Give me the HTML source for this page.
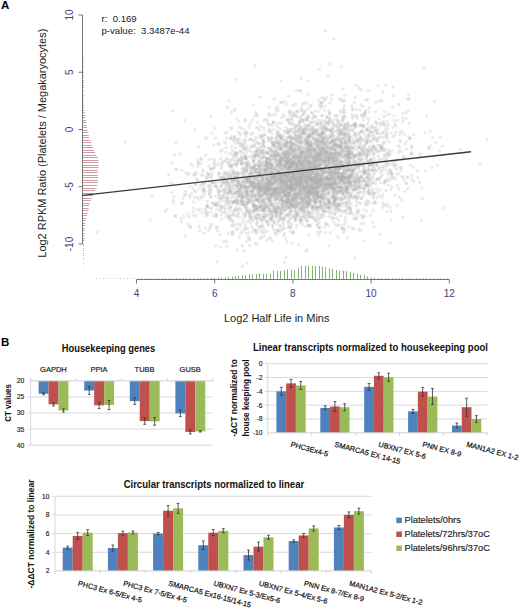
<!DOCTYPE html>
<html><head><meta charset="utf-8"><style>
html,body{margin:0;padding:0;background:#fff;width:520px;height:608px;overflow:hidden}
svg{position:absolute;left:0;top:0}
text{font-family:"Liberation Sans",sans-serif}
.tk{font-size:10px;fill:#3e3e7c}
.lab{font-size:11px;fill:#222}
.st{font-size:9.6px;fill:#222}
.big{font-size:11.5px;font-weight:bold;fill:#000}
.ct{font-size:7.5px;fill:#222;stroke:#222;stroke-width:0.2px}
.tk2{font-size:6.8px;fill:#222;stroke:#222;stroke-width:0.15px}
.ctl{font-size:7.3px;fill:#111;stroke:#111;stroke-width:0.2px}
.ctt{font-size:10px;font-weight:bold;fill:#111}
.cty{font-size:9.4px;font-weight:bold;fill:#111}
.cty2{font-size:8.7px;font-weight:bold;fill:#111}
.cty3{font-size:9.6px;font-weight:bold;fill:#111}
.leg{font-size:9.6px;fill:#1a1a1a;stroke:#1a1a1a;stroke-width:0.15px}
</style></head><body>
<svg width="520" height="608" viewBox="0 0 520 608">
<path d="M321.2 194.8h0M329.4 201.8h0M240.8 188.7h0M319.0 153.6h0M264.9 202.9h0M309.6 178.6h0M206.1 212.0h0M308.6 125.2h0M359.1 88.0h0M341.8 227.7h0M295.2 189.2h0M306.7 178.8h0M301.8 204.7h0M280.1 152.7h0M323.7 147.4h0M334.8 202.2h0M309.7 191.6h0M293.1 206.8h0M323.8 154.3h0M355.8 155.3h0M322.2 148.8h0M320.2 148.5h0M294.8 220.3h0M300.0 221.0h0M328.7 207.6h0M275.1 167.7h0M345.5 159.9h0M259.5 143.8h0M246.6 167.0h0M301.7 173.5h0M341.1 153.3h0M256.5 208.3h0M325.7 165.6h0M308.7 184.7h0M258.5 149.7h0M238.4 196.8h0M261.5 187.8h0M366.9 154.9h0M280.7 192.2h0M321.7 183.6h0M298.1 172.2h0M345.5 187.5h0M271.6 212.7h0M274.9 190.7h0M318.3 191.1h0M307.6 170.9h0M318.1 149.4h0M302.4 219.6h0M281.5 197.5h0M256.4 165.4h0M315.1 165.1h0M369.1 189.0h0M346.3 189.3h0M275.6 217.2h0M331.9 174.5h0" stroke="#b0b0b0" stroke-opacity="0.25" stroke-width="3.4" stroke-linecap="round" fill="none"/>
<path d="M288.8 163.8h0M294.9 192.8h0M332.9 170.9h0M328.7 170.4h0M375.7 140.8h0M344.4 127.5h0M346.8 159.0h0M285.9 183.5h0M321.2 147.0h0M262.9 226.4h0M252.4 145.4h0M395.0 195.4h0M348.2 122.1h0M332.1 178.4h0M297.4 195.4h0M349.5 162.7h0M300.6 180.3h0M339.0 183.1h0M243.2 148.3h0M256.6 150.7h0M304.9 188.7h0M291.3 189.2h0M344.0 189.2h0M337.9 178.6h0M236.3 210.5h0M284.6 130.6h0M297.9 198.6h0M293.5 157.8h0M292.7 179.2h0M274.1 206.7h0M355.9 127.2h0M297.9 170.5h0M256.2 137.2h0M269.0 222.9h0M288.6 152.3h0M313.7 154.8h0M349.4 161.6h0M301.0 146.2h0M316.4 140.5h0M356.7 174.9h0M319.6 104.9h0M278.9 161.8h0M276.4 146.8h0M367.4 123.9h0M252.8 192.7h0M430.2 131.1h0M290.5 168.3h0M250.4 139.0h0M325.8 163.5h0M318.5 196.3h0M301.8 169.7h0M308.9 234.8h0M294.2 159.3h0M272.5 151.8h0M336.0 145.6h0" stroke="#b0b0b0" stroke-opacity="0.25" stroke-width="3.4" stroke-linecap="round" fill="none"/>
<path d="M306.9 195.2h0M229.2 193.1h0M217.1 204.6h0M262.1 185.4h0M202.9 182.2h0M221.3 214.2h0M343.2 271.7h0M317.2 141.0h0M351.8 154.0h0M308.8 178.3h0M356.3 205.7h0M294.8 197.0h0M312.1 163.5h0M298.0 159.1h0M316.9 176.5h0M340.2 140.4h0M291.8 188.0h0M382.0 170.8h0M276.9 234.5h0M345.5 140.8h0M287.1 180.0h0M380.1 178.3h0M298.7 208.4h0M348.9 176.6h0M355.8 155.4h0M342.2 173.4h0M281.7 164.9h0M353.9 155.5h0M316.0 140.4h0M240.7 158.9h0M227.7 194.3h0M323.8 136.6h0M331.6 142.5h0M235.9 147.2h0M377.5 151.8h0M226.5 181.5h0M305.8 159.0h0M323.1 202.1h0M259.6 195.1h0M306.9 167.9h0M268.3 190.2h0M303.3 151.3h0M274.0 159.6h0M342.4 164.9h0M295.4 145.9h0M381.1 147.7h0M347.2 191.7h0M261.9 194.5h0M371.3 164.3h0M180.8 218.4h0M316.2 130.3h0M254.5 167.7h0M367.9 152.5h0M220.4 210.2h0M277.6 198.8h0" stroke="#b0b0b0" stroke-opacity="0.25" stroke-width="3.4" stroke-linecap="round" fill="none"/>
<path d="M281.4 179.5h0M355.4 146.5h0M301.8 151.5h0M337.8 187.0h0M342.8 165.7h0M381.9 123.3h0M273.0 191.4h0M390.2 169.7h0M309.3 191.7h0M310.9 213.3h0M273.3 188.5h0M345.4 175.7h0M297.3 203.6h0M312.6 187.5h0M287.8 185.6h0M293.5 198.2h0M273.0 174.4h0M280.5 209.5h0M310.6 167.4h0M412.1 153.1h0M372.1 169.9h0M293.4 202.3h0M284.0 210.5h0M349.0 147.7h0M284.5 161.4h0M323.4 207.9h0M262.1 224.8h0M364.8 112.1h0M315.3 188.6h0M282.1 174.0h0M387.8 128.8h0M278.8 179.9h0M338.6 176.0h0M361.0 143.7h0M215.8 196.4h0M291.0 181.0h0M256.9 184.2h0M344.3 126.5h0M266.7 183.7h0M241.4 161.3h0M261.7 182.7h0M295.8 197.2h0M286.9 163.2h0M322.6 179.7h0M365.0 178.4h0M343.4 173.6h0M268.2 165.0h0M295.5 144.7h0M261.1 231.0h0M251.1 174.3h0M326.6 172.5h0M326.6 182.8h0M290.1 146.4h0M283.5 146.2h0M287.0 202.7h0" stroke="#b0b0b0" stroke-opacity="0.25" stroke-width="3.4" stroke-linecap="round" fill="none"/>
<path d="M264.3 220.2h0M305.0 128.9h0M284.1 142.5h0M262.3 169.3h0M221.5 168.3h0M317.1 145.3h0M388.9 155.2h0M304.4 187.5h0M255.3 230.5h0M299.3 177.9h0M290.8 131.0h0M315.6 166.5h0M271.4 179.0h0M321.4 184.2h0M309.0 193.4h0M300.0 172.3h0M306.2 152.9h0M367.3 160.2h0M334.6 207.2h0M243.3 145.1h0M211.9 132.9h0M262.5 153.8h0M276.3 191.9h0M263.3 179.6h0M255.8 156.0h0M262.7 157.1h0M274.6 223.2h0M281.8 218.1h0M306.8 176.9h0M325.6 132.3h0M340.4 162.4h0M328.7 171.6h0M290.1 165.6h0M382.7 195.0h0M266.9 178.2h0M324.2 156.1h0M211.0 116.4h0M313.5 114.6h0M285.4 181.8h0M406.4 182.7h0M280.3 180.8h0M343.6 137.5h0M344.3 167.1h0M248.7 181.6h0M339.7 177.4h0M190.7 227.3h0M340.6 145.8h0M241.7 189.0h0M313.6 172.8h0M300.7 216.6h0M261.4 185.1h0M360.4 146.7h0M275.0 181.5h0M337.9 160.1h0M213.9 164.1h0" stroke="#b0b0b0" stroke-opacity="0.25" stroke-width="3.4" stroke-linecap="round" fill="none"/>
<path d="M322.4 141.6h0M321.5 208.4h0M313.6 168.8h0M302.5 178.3h0M302.0 177.6h0M409.7 138.8h0M323.7 149.1h0M290.6 187.2h0M387.1 170.2h0M289.2 193.4h0M295.2 115.3h0M317.7 173.8h0M331.2 130.6h0M298.1 175.9h0M259.6 150.7h0M289.6 170.0h0M298.1 143.3h0M310.9 189.0h0M286.4 208.5h0M319.0 186.9h0M298.8 171.1h0M344.8 189.8h0M325.9 153.6h0M361.8 131.2h0M297.6 168.9h0M300.2 137.8h0M295.0 180.8h0M274.7 193.3h0M235.8 200.1h0M325.2 106.1h0M263.7 144.3h0M332.3 179.3h0M341.0 197.6h0M262.4 196.4h0M272.7 195.9h0M264.3 172.3h0M329.4 118.9h0M269.3 154.9h0M278.9 197.4h0M291.6 141.5h0M249.9 182.4h0M344.2 161.7h0M313.9 171.5h0M288.9 215.5h0M291.9 124.4h0M320.4 178.7h0M189.0 173.3h0M339.5 139.2h0M297.6 177.9h0M283.3 225.2h0M312.8 127.0h0M301.6 107.9h0M373.7 146.4h0M278.3 172.4h0M247.5 190.6h0" stroke="#b0b0b0" stroke-opacity="0.25" stroke-width="3.4" stroke-linecap="round" fill="none"/>
<path d="M288.9 168.2h0M267.6 180.4h0M349.6 152.8h0M368.4 135.1h0M289.3 150.3h0M315.0 140.4h0M311.1 152.6h0M317.6 145.1h0M235.6 163.6h0M245.4 194.8h0M316.9 192.7h0M265.7 205.9h0M324.6 178.4h0M313.0 186.3h0M316.3 202.5h0M354.1 189.4h0M322.2 139.0h0M213.7 162.4h0M331.3 176.5h0M284.0 220.4h0M282.1 207.8h0M327.9 179.5h0M347.0 207.4h0M295.8 116.3h0M329.1 158.1h0M254.8 182.5h0M234.2 201.4h0M368.6 180.6h0M238.2 202.3h0M253.9 208.3h0M271.2 150.0h0M249.8 201.5h0M339.8 168.3h0M321.3 178.9h0M242.4 163.2h0M337.6 122.7h0M275.6 188.2h0M374.3 146.3h0M428.6 147.6h0M350.5 142.0h0M325.5 153.1h0M354.7 175.0h0M278.4 155.8h0M320.5 169.1h0M258.7 176.8h0M281.9 172.9h0M307.0 143.4h0M305.4 129.0h0M297.1 154.5h0M340.4 190.7h0M324.9 171.6h0M314.3 155.2h0M278.6 186.5h0M356.2 187.4h0M266.4 162.8h0" stroke="#b0b0b0" stroke-opacity="0.25" stroke-width="3.4" stroke-linecap="round" fill="none"/>
<path d="M351.9 151.7h0M299.5 169.8h0M346.8 188.1h0M321.7 148.3h0M276.2 125.1h0M306.7 148.9h0M312.6 196.2h0M305.8 133.9h0M281.9 212.8h0M336.1 157.2h0M341.8 199.0h0M274.4 172.6h0M293.1 193.6h0M343.4 112.9h0M267.4 190.2h0M261.0 194.8h0M264.0 235.8h0M289.6 212.6h0M355.8 162.4h0M279.7 195.1h0M195.4 171.9h0M266.4 221.3h0M320.2 157.6h0M310.5 178.6h0M292.6 121.4h0M298.9 194.5h0M269.5 189.6h0M279.0 192.9h0M318.2 207.3h0M257.4 195.3h0M315.2 158.1h0M308.3 182.4h0M263.2 167.9h0M289.4 196.1h0M337.9 145.3h0M352.0 164.8h0M322.7 195.7h0M175.9 169.4h0M253.6 104.6h0M292.3 119.6h0M249.4 140.1h0M326.6 123.3h0M354.9 149.2h0M308.3 116.0h0M328.7 154.9h0M290.9 164.9h0M344.3 95.5h0M253.2 185.6h0M236.2 155.2h0M292.1 138.1h0M274.2 181.7h0M332.8 220.9h0M300.4 186.6h0M334.1 164.0h0M296.5 178.4h0" stroke="#b0b0b0" stroke-opacity="0.25" stroke-width="3.4" stroke-linecap="round" fill="none"/>
<path d="M251.5 183.1h0M296.8 184.9h0M343.6 186.0h0M292.2 159.4h0M359.9 132.5h0M270.3 213.2h0M347.2 184.1h0M374.4 193.9h0M287.4 189.0h0M262.5 161.8h0M289.5 192.4h0M294.1 160.1h0M312.3 149.1h0M346.8 161.8h0M250.3 192.2h0M335.3 201.5h0M233.2 140.9h0M254.2 195.9h0M239.3 159.7h0M290.6 205.0h0M371.2 142.9h0M267.3 174.5h0M278.4 171.1h0M278.7 220.8h0M271.4 183.5h0M385.1 161.0h0M282.2 158.6h0M300.8 160.0h0M322.6 163.4h0M374.8 128.8h0M362.5 159.3h0M280.7 184.5h0M292.2 203.8h0M347.9 164.1h0M356.8 180.9h0M295.6 156.5h0M343.5 173.2h0M261.0 171.0h0M266.2 189.0h0M356.1 178.4h0M287.8 201.5h0M289.3 205.0h0M255.0 200.6h0M269.1 190.3h0M249.5 177.1h0M302.9 175.6h0M360.7 187.4h0M351.0 203.7h0M251.7 195.9h0M308.0 160.5h0M272.5 114.7h0M268.1 185.3h0M323.5 200.4h0M245.2 149.8h0M293.0 170.2h0" stroke="#b0b0b0" stroke-opacity="0.25" stroke-width="3.4" stroke-linecap="round" fill="none"/>
<path d="M282.0 199.0h0M320.9 158.1h0M233.6 173.0h0M275.4 114.4h0M358.9 186.0h0M281.5 169.3h0M356.4 109.4h0M299.8 172.6h0M296.9 175.6h0M324.9 201.7h0M323.2 194.6h0M391.1 132.6h0M342.3 179.4h0M291.8 144.7h0M384.6 111.4h0M353.5 164.8h0M344.0 212.0h0M307.2 152.3h0M303.4 187.7h0M337.9 204.0h0M263.8 141.6h0M312.3 179.5h0M296.4 130.5h0M302.0 138.5h0M442.3 146.1h0M352.6 151.2h0M265.0 193.4h0M318.1 232.2h0M304.8 167.7h0M269.7 173.8h0M254.2 177.8h0M269.7 181.4h0M272.1 241.0h0M291.6 225.6h0M288.0 149.0h0M432.6 137.8h0M334.6 197.9h0M335.2 144.3h0M294.4 177.0h0M243.6 169.1h0M280.9 161.5h0M327.0 117.1h0M289.1 176.6h0M318.9 111.4h0M301.9 199.6h0M293.0 162.9h0M295.2 193.2h0M277.9 188.1h0M293.7 178.0h0M297.9 173.7h0M254.3 183.7h0M320.0 150.3h0M181.5 203.6h0M258.2 188.9h0M218.7 143.4h0" stroke="#b0b0b0" stroke-opacity="0.25" stroke-width="3.4" stroke-linecap="round" fill="none"/>
<path d="M346.3 202.9h0M237.7 162.9h0M260.0 185.5h0M274.6 176.4h0M320.0 206.9h0M240.9 233.2h0M221.7 207.6h0M284.8 161.3h0M307.2 142.2h0M373.9 163.0h0M302.8 157.5h0M302.2 104.3h0M287.3 185.4h0M239.4 143.6h0M338.0 164.0h0M307.0 176.5h0M301.3 163.2h0M252.9 187.2h0M284.2 146.9h0M219.8 205.7h0M329.7 168.2h0M367.6 99.2h0M286.6 183.2h0M296.3 125.8h0M357.3 154.1h0M345.4 147.3h0M364.3 167.4h0M329.8 198.1h0M259.8 204.0h0M311.4 184.3h0M310.0 199.7h0M271.0 171.4h0M363.0 150.7h0M312.4 210.6h0M325.8 180.7h0M308.0 173.4h0M277.0 214.5h0M255.9 218.4h0M202.1 197.0h0M315.8 160.6h0M278.6 154.6h0M234.9 178.6h0M288.6 201.3h0M335.8 170.5h0M254.2 156.2h0M310.9 171.3h0M311.7 155.0h0M295.1 194.3h0M343.0 166.0h0M347.9 178.0h0M338.8 153.0h0M358.6 147.9h0M247.0 171.3h0M361.7 185.4h0M293.6 231.8h0" stroke="#b0b0b0" stroke-opacity="0.25" stroke-width="3.4" stroke-linecap="round" fill="none"/>
<path d="M257.1 222.0h0M340.5 150.7h0M320.2 148.7h0M320.9 195.8h0M326.3 151.7h0M320.4 139.9h0M226.7 158.4h0M287.3 188.1h0M301.7 175.9h0M340.2 162.5h0M253.6 161.2h0M340.7 178.7h0M246.1 195.7h0M376.0 102.2h0M223.9 172.7h0M302.0 202.0h0M302.3 170.1h0M333.6 173.5h0M293.5 163.5h0M294.9 176.2h0M198.9 188.5h0M284.6 132.3h0M378.2 130.0h0M363.6 190.7h0M270.4 177.1h0M294.7 207.9h0M294.4 175.6h0M310.3 169.2h0M266.3 177.1h0M341.8 133.7h0M328.9 201.5h0M255.4 183.7h0M343.9 151.0h0M290.5 148.1h0M313.2 173.9h0M287.8 155.1h0M278.8 164.3h0M304.7 181.1h0M244.9 208.1h0M233.7 222.6h0M221.1 186.5h0M321.4 179.8h0M235.9 177.4h0M384.5 154.8h0M353.6 139.7h0M252.2 155.8h0M321.3 175.4h0M323.2 139.0h0M364.6 152.4h0M237.5 160.5h0M289.1 188.0h0M199.9 230.5h0M327.3 138.5h0M292.9 105.3h0M304.3 211.7h0" stroke="#b0b0b0" stroke-opacity="0.25" stroke-width="3.4" stroke-linecap="round" fill="none"/>
<path d="M338.5 152.8h0M267.3 158.2h0M282.2 180.7h0M338.5 204.6h0M298.5 205.9h0M259.7 196.9h0M254.7 214.6h0M316.3 157.7h0M332.2 141.3h0M314.3 195.9h0M257.6 214.2h0M310.2 137.5h0M363.4 147.8h0M208.4 174.3h0M309.4 226.1h0M333.3 196.2h0M260.4 215.5h0M309.2 134.3h0M226.7 246.0h0M340.8 146.1h0M281.9 181.7h0M211.6 189.9h0M216.4 181.7h0M338.0 162.5h0M309.2 193.9h0M184.2 194.8h0M326.4 165.9h0M280.6 137.3h0M288.7 181.2h0M165.2 211.5h0M308.6 158.2h0M307.3 201.7h0M345.2 149.2h0M395.2 178.7h0M311.1 188.9h0M321.1 120.5h0M296.2 190.5h0M330.3 130.7h0M296.2 138.6h0M358.3 145.5h0M270.9 164.9h0M290.0 184.2h0M324.1 122.7h0M397.9 145.8h0M310.5 178.0h0M323.8 204.6h0M237.0 180.0h0M250.3 123.6h0M301.8 169.6h0M228.7 178.2h0M336.9 225.8h0M372.6 162.8h0M336.2 131.2h0M314.9 218.9h0M245.7 214.0h0" stroke="#b0b0b0" stroke-opacity="0.25" stroke-width="3.4" stroke-linecap="round" fill="none"/>
<path d="M342.5 188.8h0M286.5 163.6h0M269.2 168.0h0M331.4 205.1h0M347.3 157.3h0M325.3 31.0h0M278.2 208.1h0M283.8 160.5h0M255.3 194.1h0M372.8 190.0h0M349.9 157.6h0M205.3 228.0h0M406.4 183.8h0M354.1 178.9h0M349.2 133.4h0M335.6 156.4h0M316.2 202.0h0M279.8 189.7h0M392.0 178.1h0M241.0 188.0h0M252.3 191.8h0M278.5 178.2h0M335.9 166.3h0M359.9 154.2h0M344.4 143.0h0M307.7 182.7h0M290.8 218.1h0M364.5 180.5h0M319.5 69.3h0M303.6 173.4h0M262.8 210.6h0M301.0 197.6h0M340.2 205.8h0M330.6 152.6h0M272.0 179.3h0M298.8 176.3h0M336.2 187.6h0M294.5 161.3h0M187.6 174.5h0M238.4 189.1h0M286.9 160.6h0M239.2 203.0h0M280.2 176.1h0M349.2 177.2h0M275.7 189.6h0M335.2 199.5h0M334.8 155.8h0M350.6 209.0h0M304.3 160.0h0M383.1 121.6h0M284.9 174.3h0M276.8 111.4h0M316.7 191.8h0M319.8 155.8h0M283.1 158.5h0" stroke="#b0b0b0" stroke-opacity="0.25" stroke-width="3.4" stroke-linecap="round" fill="none"/>
<path d="M315.0 149.7h0M366.1 181.8h0M299.9 151.7h0M365.8 182.0h0M314.8 183.6h0M334.1 150.3h0M292.3 243.3h0M313.3 173.6h0M326.0 224.2h0M304.2 112.4h0M218.8 194.6h0M295.7 217.5h0M307.8 140.8h0M258.6 167.6h0M284.5 176.2h0M373.1 139.5h0M307.2 150.9h0M301.5 177.8h0M288.3 176.1h0M299.0 161.3h0M294.9 128.6h0M327.0 141.0h0M225.4 179.2h0M385.4 180.6h0M347.3 149.2h0M294.2 184.2h0M305.9 172.4h0M263.3 215.2h0M343.8 195.0h0M380.5 150.6h0M303.5 188.3h0M333.7 38.6h0M313.7 187.3h0M317.1 192.8h0M265.3 183.3h0M271.8 187.4h0M305.4 171.5h0M312.3 127.0h0M263.9 120.4h0M301.0 169.0h0M292.1 163.5h0M282.6 177.6h0M309.6 216.9h0M331.6 149.7h0M234.8 180.2h0M350.9 178.1h0M324.8 100.2h0M335.8 149.9h0M269.2 163.7h0M316.8 180.0h0M293.4 178.5h0M242.9 195.7h0M330.2 184.0h0M338.4 146.9h0M276.3 189.1h0" stroke="#b0b0b0" stroke-opacity="0.25" stroke-width="3.4" stroke-linecap="round" fill="none"/>
<path d="M341.1 191.2h0M202.6 171.6h0M340.6 191.3h0M312.3 172.8h0M345.1 191.1h0M290.3 186.8h0M337.1 172.9h0M331.8 156.3h0M347.5 170.5h0M284.1 189.2h0M329.5 178.3h0M260.1 184.9h0M270.6 183.4h0M241.2 186.3h0M274.4 188.5h0M223.2 195.4h0M307.9 206.4h0M230.1 207.5h0M284.2 156.4h0M299.1 156.4h0M293.4 184.5h0M242.9 221.8h0M268.4 191.0h0M270.4 197.8h0M288.7 192.7h0M256.7 190.0h0M345.3 169.4h0M307.4 185.0h0M365.1 216.0h0M305.3 164.9h0M277.6 180.8h0M243.9 220.7h0M380.8 145.4h0M262.4 208.1h0M283.0 219.5h0M310.9 172.4h0M276.0 156.2h0M320.4 160.6h0M342.0 224.9h0M293.5 186.9h0M287.4 156.0h0M268.9 137.8h0M289.8 142.1h0M339.7 135.8h0M313.6 181.1h0M303.1 198.5h0M294.4 162.7h0M319.7 134.9h0M228.4 193.0h0M290.3 180.7h0M280.7 147.2h0M250.9 167.7h0M231.7 182.2h0M322.5 189.9h0M267.8 189.4h0" stroke="#b0b0b0" stroke-opacity="0.25" stroke-width="3.4" stroke-linecap="round" fill="none"/>
<path d="M299.7 188.3h0M377.3 162.9h0M275.4 158.9h0M308.4 207.3h0M343.0 116.7h0M294.5 156.1h0M368.5 193.0h0M324.1 158.4h0M275.4 181.9h0M270.5 219.6h0M313.5 197.3h0M300.2 152.2h0M314.9 181.8h0M299.2 168.6h0M351.2 126.6h0M197.6 197.5h0M403.9 156.7h0M302.2 161.4h0M193.7 202.3h0M295.7 211.4h0M328.7 153.6h0M315.6 195.3h0M293.1 124.1h0M304.4 177.7h0M263.8 188.7h0M301.6 168.9h0M268.0 148.6h0M306.2 206.8h0M324.7 142.1h0M300.7 157.1h0M248.2 165.4h0M267.3 122.9h0M265.2 152.0h0M287.7 160.0h0M247.4 203.5h0M300.6 90.8h0M233.5 213.0h0M263.8 146.3h0M330.2 163.2h0M313.1 167.9h0M325.5 172.9h0M298.5 136.1h0M241.4 161.4h0M301.0 208.8h0M257.5 122.4h0M368.1 167.3h0M359.8 164.2h0M330.6 148.1h0M316.5 160.2h0M272.4 165.4h0M273.8 150.7h0M317.1 124.2h0M246.8 169.9h0M311.0 173.5h0M317.1 149.1h0" stroke="#b0b0b0" stroke-opacity="0.25" stroke-width="3.4" stroke-linecap="round" fill="none"/>
<path d="M277.3 167.0h0M330.3 207.8h0M313.1 157.1h0M281.1 211.3h0M238.1 132.1h0M311.9 112.4h0M347.6 136.2h0M244.9 188.0h0M312.3 144.4h0M212.8 182.4h0M370.4 193.2h0M289.5 123.6h0M286.7 151.0h0M288.1 206.6h0M345.9 180.3h0M315.0 165.3h0M255.5 210.4h0M322.7 151.6h0M387.2 133.1h0M409.2 98.8h0M298.0 194.8h0M249.6 150.6h0M234.6 197.1h0M287.7 166.2h0M220.2 210.0h0M240.9 186.0h0M305.8 193.9h0M289.6 196.3h0M277.4 151.0h0M389.5 114.0h0M349.5 183.0h0M288.9 198.1h0M263.3 145.1h0M284.0 157.3h0M277.6 230.0h0M284.3 199.9h0M335.5 190.2h0M393.1 86.9h0M259.2 188.9h0M325.7 150.7h0M280.9 167.4h0M375.9 122.9h0M355.8 218.4h0M319.7 181.3h0M285.0 195.3h0M308.6 178.1h0M293.4 173.2h0M308.3 211.1h0M287.3 161.3h0M346.0 196.7h0M286.4 172.2h0M329.7 103.1h0M373.3 196.3h0M382.1 175.1h0M305.2 197.1h0" stroke="#b0b0b0" stroke-opacity="0.25" stroke-width="3.4" stroke-linecap="round" fill="none"/>
<path d="M379.4 158.4h0M326.2 190.0h0M310.3 198.3h0M330.1 168.5h0M327.0 154.4h0M322.1 154.4h0M371.1 177.7h0M242.3 245.8h0M300.9 181.7h0M277.6 189.7h0M362.3 150.3h0M343.3 156.6h0M269.6 160.7h0M330.5 203.6h0M369.7 148.2h0M234.1 172.5h0M277.9 207.5h0M257.3 225.6h0M328.2 172.6h0M226.9 176.8h0M285.9 174.0h0M306.2 128.2h0M274.9 162.5h0M286.8 196.0h0M214.9 205.5h0M253.9 211.3h0M268.5 124.6h0M326.5 165.6h0M305.3 152.5h0M348.1 141.1h0M347.5 123.6h0M241.3 143.3h0M335.0 142.6h0M297.5 206.4h0M265.1 169.8h0M315.9 169.3h0M307.9 186.5h0M275.8 141.8h0M307.3 167.9h0M279.1 194.7h0M292.7 178.9h0M287.3 194.2h0M320.8 138.1h0M278.4 194.6h0M314.7 151.6h0M301.7 192.8h0M328.4 180.6h0M289.5 192.6h0M318.8 185.4h0M343.0 148.3h0M286.8 162.2h0M310.3 151.4h0M234.2 181.2h0M281.1 159.8h0" stroke="#b0b0b0" stroke-opacity="0.25" stroke-width="3.4" stroke-linecap="round" fill="none"/>
<path d="M289.7 206.3h0M272.8 205.6h0M240.2 146.1h0M339.2 123.9h0M296.0 150.0h0M385.0 141.6h0M290.0 142.2h0M348.3 142.9h0M218.9 175.0h0M307.0 141.6h0M312.6 183.7h0M276.4 173.9h0M345.2 124.3h0M284.8 191.5h0M305.7 201.1h0M326.3 129.2h0M234.4 179.0h0M282.3 188.4h0M263.1 200.0h0M320.3 206.9h0M281.6 220.1h0M242.6 177.8h0M228.3 160.0h0M319.3 142.0h0M239.3 188.7h0M256.8 223.3h0M257.9 200.2h0M302.1 210.4h0M261.4 189.5h0M348.8 175.6h0M283.6 166.6h0M304.1 212.7h0M332.8 193.0h0M233.5 188.3h0M320.0 157.9h0M293.2 152.1h0M256.2 205.6h0M349.6 137.8h0M269.2 166.8h0M313.2 198.3h0M315.9 220.3h0M214.6 167.3h0M314.9 191.5h0M223.5 182.4h0M322.4 159.9h0M172.1 192.1h0M314.2 138.2h0M233.3 187.3h0M251.6 196.2h0M266.6 185.1h0M339.3 145.8h0M363.4 179.0h0M321.2 162.6h0M323.1 174.1h0" stroke="#b0b0b0" stroke-opacity="0.25" stroke-width="3.4" stroke-linecap="round" fill="none"/>
<path d="M283.0 183.4h0M273.1 194.2h0M245.2 183.4h0M327.4 206.2h0M341.6 154.3h0M279.1 211.8h0M320.1 181.0h0M366.3 185.4h0M306.3 191.6h0M315.5 111.3h0M291.0 194.6h0M253.6 205.1h0M335.9 181.8h0M278.4 187.8h0M386.8 158.9h0M347.0 155.1h0M263.0 158.3h0M283.6 185.1h0M274.6 202.4h0M260.4 238.4h0M280.7 80.6h0M383.6 124.7h0M299.9 195.8h0M258.2 193.3h0M313.9 166.3h0M277.5 193.2h0M290.3 191.8h0M368.6 134.1h0M313.1 206.6h0M278.6 207.2h0M304.8 187.3h0M305.8 125.0h0M309.5 164.3h0M342.3 175.4h0M368.3 163.0h0M372.4 150.4h0M350.1 167.5h0M380.8 176.9h0M367.1 184.7h0M295.9 132.3h0M306.3 182.8h0M325.2 135.2h0M250.5 181.2h0M326.7 176.2h0M280.4 226.7h0M286.5 164.2h0M331.4 178.5h0M262.2 205.3h0M341.6 140.8h0M308.5 169.3h0M303.9 171.5h0M370.8 159.5h0M257.6 215.1h0M246.8 177.3h0" stroke="#b0b0b0" stroke-opacity="0.25" stroke-width="3.4" stroke-linecap="round" fill="none"/>
<path d="M220.0 177.8h0M312.5 194.0h0M404.6 143.9h0M326.0 187.8h0M373.9 147.2h0M224.4 141.9h0M307.4 119.4h0M348.5 179.5h0M264.9 134.6h0M405.9 118.6h0M297.6 182.6h0M320.5 156.2h0M319.4 168.3h0M301.2 128.2h0M289.4 131.1h0M315.1 176.1h0M215.9 245.7h0M327.8 168.5h0M336.5 130.4h0M290.5 115.2h0M332.5 158.0h0M368.1 90.8h0M334.8 166.3h0M367.7 186.8h0M294.3 199.8h0M321.1 152.6h0M260.1 161.0h0M303.0 151.9h0M270.5 161.7h0M214.6 204.0h0M358.3 168.9h0M301.5 183.3h0M263.2 200.1h0M334.1 188.5h0M255.4 243.8h0M267.3 221.1h0M399.6 150.1h0M359.9 188.4h0M267.6 159.7h0M385.7 149.8h0M361.1 177.6h0M364.8 172.0h0M255.2 196.4h0M336.3 164.8h0M293.7 206.6h0M332.3 203.3h0M311.2 149.0h0M243.9 180.9h0M322.1 141.8h0M323.8 171.8h0M373.0 167.1h0M289.8 148.4h0M282.8 201.0h0M329.3 146.5h0" stroke="#b0b0b0" stroke-opacity="0.25" stroke-width="3.4" stroke-linecap="round" fill="none"/>
<path d="M344.2 151.9h0M307.9 149.9h0M326.0 207.4h0M316.1 145.6h0M261.4 136.2h0M314.7 184.8h0M320.9 196.8h0M303.6 206.6h0M318.6 140.9h0M275.3 155.5h0M334.8 115.4h0M316.0 198.3h0M325.0 127.4h0M277.5 130.9h0M322.7 170.3h0M303.9 177.6h0M358.7 165.1h0M235.1 152.8h0M279.3 185.4h0M265.4 199.0h0M264.7 190.6h0M331.6 99.5h0M307.7 163.9h0M243.7 191.3h0M351.9 136.9h0M269.1 131.7h0M294.8 189.9h0M342.6 129.1h0M357.5 141.0h0M299.5 183.2h0M275.7 162.1h0M307.1 164.2h0M332.5 158.4h0M325.2 152.6h0M343.3 109.0h0M258.0 180.5h0M318.7 154.7h0M228.7 185.0h0M361.4 198.6h0M292.3 179.5h0M286.0 158.7h0M310.0 190.7h0M297.4 166.9h0M253.3 211.5h0M342.3 174.7h0M278.9 147.6h0M324.3 140.0h0M354.4 185.4h0M322.3 189.8h0M303.8 202.1h0M307.7 184.1h0M341.3 143.0h0M325.9 169.0h0M173.8 196.8h0" stroke="#b0b0b0" stroke-opacity="0.25" stroke-width="3.4" stroke-linecap="round" fill="none"/>
<path d="M337.0 198.2h0M263.3 188.1h0M331.1 186.1h0M279.4 190.9h0M309.1 148.8h0M329.5 183.3h0M187.9 224.1h0M321.2 196.5h0M371.0 131.4h0M297.4 199.6h0M411.3 153.0h0M364.6 114.3h0M352.4 170.0h0M232.5 173.2h0M345.7 206.3h0M314.3 149.7h0M239.5 196.3h0M363.1 196.6h0M322.8 170.1h0M296.9 163.2h0M323.3 171.4h0M258.8 187.2h0M290.9 166.0h0M319.8 201.6h0M281.4 230.0h0M292.1 146.7h0M339.9 167.8h0M321.1 180.0h0M291.2 144.4h0M258.3 174.9h0M322.4 132.6h0M328.6 156.5h0M354.8 182.1h0M331.6 190.3h0M272.3 218.3h0M270.7 183.3h0M308.6 213.7h0M381.9 197.6h0M261.4 177.4h0M265.1 174.8h0M313.4 163.3h0M269.0 178.2h0M256.8 199.0h0M358.8 134.9h0M364.5 181.1h0M372.9 169.9h0M299.3 188.0h0M329.4 184.3h0M287.8 207.6h0M296.0 212.3h0M345.5 116.2h0M293.5 195.0h0M329.9 153.4h0M285.0 166.4h0" stroke="#b0b0b0" stroke-opacity="0.25" stroke-width="3.4" stroke-linecap="round" fill="none"/>
<path d="M342.6 190.7h0M323.0 125.5h0M309.0 191.0h0M249.2 180.4h0M342.9 180.2h0M256.2 178.4h0M329.8 113.1h0M336.1 187.7h0M280.5 209.9h0M275.2 213.5h0M299.4 146.9h0M300.2 165.1h0M248.6 186.4h0M361.1 223.8h0M284.0 193.8h0M287.3 203.1h0M365.7 204.1h0M324.4 169.0h0M260.9 150.7h0M407.7 99.0h0M305.7 194.6h0M262.2 190.3h0M290.8 119.6h0M334.6 183.6h0M344.9 171.1h0M336.0 160.1h0M377.1 197.5h0M308.1 193.7h0M217.1 261.9h0M318.7 166.0h0M370.5 136.3h0M343.7 170.7h0M266.9 158.8h0M393.4 160.8h0M310.8 166.9h0M325.6 162.6h0M296.0 166.6h0M329.0 185.7h0M290.1 111.7h0M270.8 183.5h0M273.2 183.4h0M378.9 168.3h0M346.3 148.1h0M333.3 141.3h0M290.4 166.0h0M309.0 163.0h0M290.2 189.4h0M288.6 165.2h0M333.7 158.2h0M327.4 122.9h0M370.8 160.9h0M421.5 220.4h0M268.5 188.7h0M340.5 124.5h0" stroke="#b0b0b0" stroke-opacity="0.25" stroke-width="3.4" stroke-linecap="round" fill="none"/>
<path d="M293.4 202.0h0M318.0 120.3h0M255.2 230.3h0M346.5 170.9h0M312.2 193.2h0M248.0 179.5h0M372.0 164.6h0M440.0 136.5h0M339.4 121.4h0M330.3 175.2h0M316.0 181.9h0M367.1 142.6h0M280.2 148.5h0M347.9 182.2h0M324.7 161.2h0M287.0 147.2h0M263.5 170.1h0M281.7 185.6h0M307.0 154.5h0M388.8 164.3h0M267.1 152.3h0M376.0 130.4h0M340.6 130.6h0M355.2 178.2h0M263.7 193.1h0M259.0 187.8h0M239.8 180.0h0M329.9 207.7h0M323.9 183.0h0M329.0 154.2h0M313.7 117.5h0M308.1 136.5h0M230.5 189.4h0M362.0 160.2h0M323.9 148.5h0M308.4 176.6h0M232.5 179.9h0M317.0 190.2h0M299.7 90.7h0M251.3 182.1h0M339.1 153.9h0M301.4 184.3h0M268.3 181.8h0M232.6 181.0h0M292.3 176.9h0M293.7 194.4h0M341.5 145.3h0M308.3 176.9h0M306.5 103.3h0M296.0 178.8h0M362.9 217.8h0M330.2 165.6h0M391.3 220.6h0M341.4 134.3h0" stroke="#b0b0b0" stroke-opacity="0.25" stroke-width="3.4" stroke-linecap="round" fill="none"/>
<path d="M280.5 217.7h0M298.2 172.9h0M303.2 179.9h0M409.2 123.4h0M297.9 162.5h0M233.9 137.2h0M314.3 179.6h0M237.6 176.3h0M306.3 214.8h0M287.7 157.9h0M305.8 194.8h0M367.2 161.1h0M264.2 187.3h0M269.4 179.6h0M191.7 193.6h0M260.4 165.6h0M259.0 198.7h0M321.8 141.0h0M275.1 180.5h0M265.9 162.5h0M258.3 184.3h0M289.8 207.1h0M331.4 187.0h0M358.8 139.4h0M296.0 200.2h0M355.5 195.8h0M258.4 192.2h0M243.0 197.5h0M326.0 171.8h0M327.0 152.1h0M314.8 131.8h0M287.7 169.4h0M298.5 214.5h0M255.7 177.9h0M315.8 193.2h0M321.8 198.0h0M273.2 159.5h0M354.8 162.9h0M344.2 127.6h0M341.9 165.8h0M300.0 122.7h0M273.2 144.2h0M279.2 172.3h0M307.3 144.8h0M340.5 124.7h0M305.6 163.5h0M185.4 172.4h0M204.4 188.0h0M278.6 201.4h0M289.8 174.1h0M299.8 133.1h0M320.3 191.8h0M384.2 168.2h0M194.1 174.5h0" stroke="#b0b0b0" stroke-opacity="0.25" stroke-width="3.4" stroke-linecap="round" fill="none"/>
<path d="M251.9 167.5h0M308.1 184.6h0M322.8 160.3h0M285.2 174.8h0M369.4 107.9h0M266.6 161.8h0M248.0 192.2h0M251.6 151.7h0M313.1 138.7h0M246.6 241.3h0M302.8 201.5h0M349.8 170.1h0M337.1 185.1h0M255.4 188.9h0M259.4 168.7h0M277.8 143.4h0M232.1 225.4h0M207.3 175.8h0M420.0 182.5h0M275.4 177.9h0M310.2 161.2h0M239.7 194.7h0M279.0 172.2h0M292.9 174.1h0M254.2 162.9h0M298.6 135.7h0M340.0 173.7h0M294.8 145.0h0M305.0 157.2h0M266.3 191.9h0M256.2 232.5h0M308.8 176.1h0M246.0 164.7h0M296.6 157.8h0M345.5 155.7h0M265.5 166.1h0M286.4 145.5h0M384.1 183.3h0M275.0 152.9h0M326.5 177.1h0M246.3 181.7h0M354.0 228.9h0M361.2 115.1h0M324.3 186.4h0M319.5 179.6h0M365.7 110.3h0M302.2 209.4h0M318.9 179.4h0M258.8 196.2h0M299.7 180.1h0M346.3 136.9h0M254.7 210.6h0M302.3 130.1h0M264.8 207.7h0" stroke="#b0b0b0" stroke-opacity="0.25" stroke-width="3.4" stroke-linecap="round" fill="none"/>
<path d="M300.4 186.6h0M323.4 148.0h0M231.0 192.8h0M335.7 160.5h0M205.6 155.4h0M269.2 183.2h0M243.9 172.8h0M295.9 214.1h0M374.6 169.7h0M344.1 156.5h0M323.0 149.5h0M225.7 216.5h0M275.4 177.3h0M266.2 173.0h0M287.6 214.6h0M279.9 171.3h0M288.5 197.6h0M304.9 140.2h0M314.2 197.0h0M332.8 165.3h0M344.5 133.3h0M289.5 167.9h0M348.8 158.5h0M236.9 203.1h0M387.5 153.5h0M277.3 135.2h0M247.9 202.5h0M329.4 114.6h0M276.1 142.4h0M339.9 155.1h0M304.0 119.6h0M325.1 157.4h0M238.2 209.7h0M370.2 195.1h0M306.2 250.7h0M307.8 188.0h0M253.4 141.3h0M286.9 154.6h0M349.6 214.0h0M295.6 197.7h0M299.7 203.6h0M386.5 115.3h0M289.7 192.8h0M285.5 201.7h0M341.7 152.1h0M326.3 129.2h0M204.3 233.3h0M302.4 224.9h0M317.1 206.7h0M340.9 143.3h0M274.0 209.1h0M307.1 118.8h0M300.7 189.9h0M259.4 172.8h0" stroke="#b0b0b0" stroke-opacity="0.25" stroke-width="3.4" stroke-linecap="round" fill="none"/>
<path d="M352.2 110.0h0M434.4 101.5h0M289.1 186.5h0M268.8 113.7h0M283.1 204.7h0M378.2 145.2h0M318.1 145.7h0M274.8 183.3h0M252.9 161.4h0M365.4 136.1h0M334.5 209.4h0M344.6 169.4h0M311.3 180.8h0M322.1 176.4h0M304.4 126.7h0M271.7 167.8h0M282.4 181.0h0M344.9 143.8h0M310.5 174.7h0M316.3 162.0h0M261.4 195.6h0M287.7 190.1h0M337.6 191.9h0M262.9 210.4h0M253.6 190.6h0M252.1 119.9h0M263.0 199.3h0M300.1 163.0h0M249.4 210.4h0M255.1 65.8h0M273.0 122.3h0M293.0 149.9h0M280.8 145.5h0M318.7 184.9h0M281.6 186.2h0M268.7 182.7h0M287.9 188.9h0M333.2 147.7h0M286.2 184.5h0M282.4 184.9h0M365.8 171.0h0M316.3 175.9h0M302.0 185.4h0M295.4 111.4h0M259.6 130.0h0M326.2 160.6h0M352.3 228.3h0M314.1 173.7h0M303.1 174.5h0M313.9 190.4h0M296.9 182.6h0M284.8 155.1h0M317.3 224.4h0M353.2 129.5h0" stroke="#b0b0b0" stroke-opacity="0.25" stroke-width="3.4" stroke-linecap="round" fill="none"/>
<path d="M335.6 197.5h0M266.2 168.6h0M287.0 174.7h0M306.6 172.6h0M283.4 174.4h0M424.1 67.4h0M344.4 164.7h0M288.0 177.7h0M350.1 186.3h0M281.6 137.4h0M334.7 193.7h0M288.9 137.7h0M270.6 175.2h0M296.4 153.9h0M287.2 157.7h0M236.7 152.8h0M216.8 205.5h0M308.2 204.6h0M229.7 186.6h0M228.6 217.2h0M318.4 218.9h0M284.6 116.5h0M314.0 163.4h0M327.6 142.2h0M276.4 142.2h0M231.7 171.0h0M318.7 191.9h0M312.4 193.4h0M274.2 156.4h0M331.1 152.4h0M280.1 156.0h0M324.8 186.1h0M293.7 164.2h0M241.3 163.3h0M331.0 217.5h0M291.6 191.0h0M358.1 156.0h0M300.5 208.6h0M280.0 182.2h0M264.4 164.8h0M306.7 148.8h0M277.9 154.3h0M304.2 178.0h0M283.1 197.4h0M344.9 147.5h0M308.8 145.3h0M283.3 148.8h0M268.5 140.2h0M303.6 198.0h0M248.7 187.7h0M437.5 165.1h0M274.3 145.1h0M312.1 190.0h0M300.0 179.3h0" stroke="#b0b0b0" stroke-opacity="0.25" stroke-width="3.4" stroke-linecap="round" fill="none"/>
<path d="M313.3 163.4h0M259.4 166.1h0M315.9 195.9h0M264.5 178.1h0M355.2 167.9h0M256.5 188.1h0M336.8 175.0h0M284.4 174.8h0M269.9 207.2h0M391.7 186.6h0M360.2 179.9h0M316.3 187.3h0M238.8 182.8h0M342.2 181.6h0M318.0 179.0h0M248.1 237.1h0M338.0 173.4h0M283.1 164.1h0M327.7 179.2h0M255.7 194.3h0M332.3 132.4h0M306.5 215.9h0M305.2 156.5h0M338.8 168.4h0M223.3 241.3h0M291.9 129.5h0M303.5 204.3h0M223.1 189.3h0M289.8 158.4h0M257.7 175.7h0M274.7 153.9h0M349.5 140.2h0M372.7 182.6h0M313.3 157.0h0M329.6 200.1h0M320.0 166.7h0M335.0 168.4h0M356.8 139.4h0M242.6 200.8h0M344.8 201.9h0M302.5 197.5h0M295.9 142.9h0M340.5 187.5h0M319.2 222.2h0M259.9 169.0h0M296.3 203.1h0M264.5 209.0h0M282.7 179.2h0M308.2 173.9h0M239.3 183.1h0M352.6 172.5h0M364.3 113.8h0M183.9 216.7h0M351.1 130.3h0" stroke="#b0b0b0" stroke-opacity="0.25" stroke-width="3.4" stroke-linecap="round" fill="none"/>
<path d="M328.1 178.9h0M353.0 116.7h0M323.6 149.2h0M287.9 157.6h0M363.9 125.8h0M289.3 186.8h0M285.8 202.7h0M365.8 100.3h0M234.1 174.8h0M183.1 198.3h0M311.2 128.8h0M333.7 119.8h0M309.6 189.9h0M307.5 120.2h0M305.2 164.1h0M357.9 196.9h0M363.4 120.0h0M300.2 189.5h0M334.8 195.7h0M369.5 140.9h0M305.8 166.1h0M210.5 226.0h0M306.1 165.5h0M339.5 131.1h0M300.7 197.1h0M336.7 161.2h0M310.1 167.7h0M368.8 160.8h0M280.9 156.6h0M389.6 180.7h0M267.7 178.8h0M279.9 136.9h0M333.9 190.9h0M317.0 139.5h0M267.7 159.1h0M326.1 153.9h0M181.4 221.5h0M339.0 190.7h0M299.1 184.6h0M296.4 194.6h0M289.2 113.1h0M343.0 171.2h0M280.8 146.3h0M299.0 179.8h0M281.6 188.1h0M294.7 165.0h0M238.0 186.5h0M306.8 132.8h0M314.9 177.0h0M304.4 164.7h0M373.7 226.7h0M335.0 142.1h0M332.7 177.8h0M357.8 141.5h0" stroke="#b0b0b0" stroke-opacity="0.25" stroke-width="3.4" stroke-linecap="round" fill="none"/>
<path d="M194.2 175.2h0M274.3 193.5h0M325.3 185.2h0M286.0 180.3h0M316.2 178.0h0M280.1 180.4h0M97.0 232.3h0M229.9 192.7h0M266.1 215.8h0M291.2 166.5h0M267.0 178.6h0M404.4 134.2h0M346.1 181.9h0M274.1 180.9h0M212.8 183.0h0M349.8 138.1h0M281.7 210.6h0M375.8 180.3h0M318.6 186.9h0M273.3 166.9h0M342.3 125.3h0M308.0 225.3h0M342.0 165.8h0M299.6 189.9h0M328.2 76.3h0M314.0 158.9h0M295.9 166.8h0M280.4 204.1h0M336.2 160.6h0M309.8 167.2h0M260.7 208.4h0M360.6 171.9h0M256.1 151.6h0M275.5 149.8h0M318.4 158.6h0M286.8 140.5h0M282.7 181.7h0M326.1 146.1h0M280.5 162.6h0M276.2 199.8h0M290.0 187.2h0M347.4 127.9h0M290.5 135.5h0M323.0 211.1h0M280.5 141.5h0M286.7 202.5h0M326.1 165.9h0M337.7 183.9h0M330.4 158.8h0M317.6 165.8h0M402.2 131.6h0M243.7 181.8h0M275.1 189.6h0M235.7 192.2h0" stroke="#b0b0b0" stroke-opacity="0.25" stroke-width="3.4" stroke-linecap="round" fill="none"/>
<path d="M334.1 167.8h0M310.5 178.5h0M328.0 206.0h0M273.6 192.6h0M352.8 190.7h0M318.9 187.9h0M316.9 158.6h0M298.4 157.5h0M201.1 158.3h0M288.4 196.6h0M387.0 180.2h0M335.0 149.1h0M264.9 207.8h0M200.5 185.5h0M288.2 132.6h0M338.5 182.6h0M350.7 157.4h0M300.2 129.2h0M287.4 119.4h0M222.0 177.4h0M247.6 195.5h0M267.1 120.3h0M378.3 191.6h0M383.4 142.7h0M297.3 182.2h0M258.4 153.2h0M388.2 185.0h0M358.8 185.7h0M315.6 129.9h0M302.1 168.0h0M338.5 169.5h0M291.3 195.8h0M311.6 178.8h0M250.2 196.4h0M302.8 152.4h0M246.7 178.7h0M389.4 172.4h0M286.5 241.8h0M365.5 184.9h0M320.4 185.8h0M314.5 162.0h0M260.1 193.3h0M280.4 136.3h0M298.3 170.2h0M255.3 209.7h0M285.7 164.7h0M301.4 203.1h0M295.9 172.5h0M296.8 171.5h0M350.3 176.3h0M297.1 194.7h0M360.6 125.2h0M314.3 179.3h0M346.5 163.7h0" stroke="#b0b0b0" stroke-opacity="0.25" stroke-width="3.4" stroke-linecap="round" fill="none"/>
<path d="M331.9 177.8h0M223.8 211.6h0M303.1 177.9h0M296.6 164.6h0M267.3 163.9h0M310.8 200.9h0M321.3 161.8h0M232.7 150.8h0M371.9 160.6h0M347.6 130.1h0M295.4 176.3h0M351.7 175.0h0M279.2 163.2h0M274.2 158.9h0M286.9 215.8h0M298.6 174.3h0M342.3 138.6h0M311.6 133.6h0M348.4 155.2h0M269.6 186.1h0M248.1 180.4h0M373.0 193.9h0M256.1 180.5h0M352.2 118.1h0M338.9 128.5h0M268.7 181.3h0M303.7 152.0h0M274.1 220.6h0M353.8 196.2h0M266.1 180.9h0M274.4 99.3h0M353.9 172.0h0M260.3 147.3h0M309.1 190.6h0M288.4 220.5h0M300.5 165.6h0M294.4 165.0h0M295.2 201.8h0M234.1 157.1h0M353.9 188.8h0M228.1 200.8h0M326.8 151.0h0M313.0 183.8h0M325.0 162.0h0M263.3 210.5h0M362.8 181.9h0M313.5 178.0h0M259.4 186.8h0M291.8 185.8h0M273.3 157.6h0M314.5 157.2h0M272.6 215.2h0M267.0 230.9h0M382.3 207.6h0" stroke="#b0b0b0" stroke-opacity="0.25" stroke-width="3.4" stroke-linecap="round" fill="none"/>
<path d="M363.1 164.8h0M359.5 125.8h0M285.9 177.4h0M273.8 197.0h0M322.4 160.4h0M313.9 176.2h0M284.7 180.2h0M297.2 145.6h0M287.3 185.5h0M329.1 136.1h0M322.0 136.5h0M255.1 177.5h0M308.2 192.8h0M299.1 139.6h0M240.0 133.1h0M299.7 192.8h0M243.7 143.7h0M270.5 155.5h0M291.4 184.6h0M336.1 179.7h0M407.8 188.6h0M282.2 212.7h0M338.3 162.2h0M294.8 138.1h0M317.1 225.1h0M316.3 154.7h0M286.3 182.3h0M290.9 199.1h0M206.2 178.8h0M241.8 145.2h0M367.5 130.1h0M292.3 179.1h0M318.2 173.6h0M261.1 152.5h0M274.3 147.4h0M286.0 142.9h0M298.3 209.6h0M334.7 153.4h0M248.7 199.1h0M314.2 180.7h0M271.5 218.5h0M344.6 124.9h0M384.1 205.2h0M341.4 134.0h0M285.1 157.3h0M309.6 164.0h0M275.9 154.0h0M280.2 164.7h0M314.7 199.1h0M296.5 90.6h0M271.3 167.7h0M387.9 174.2h0M296.4 193.2h0M335.4 175.1h0" stroke="#b0b0b0" stroke-opacity="0.25" stroke-width="3.4" stroke-linecap="round" fill="none"/>
<path d="M357.8 165.9h0M329.9 176.6h0M237.0 163.5h0M334.5 125.2h0M297.0 178.8h0M339.5 204.4h0M196.6 179.5h0M324.8 153.9h0M225.0 133.2h0M337.2 218.2h0M300.6 178.1h0M310.9 176.3h0M328.1 117.4h0M295.8 126.9h0M290.8 182.0h0M322.9 138.5h0M269.7 181.3h0M267.7 168.4h0M332.2 185.4h0M339.2 139.9h0M250.3 164.7h0M280.5 179.9h0M246.9 181.8h0M280.6 182.7h0M327.5 148.7h0M304.9 183.8h0M342.8 88.8h0M309.5 191.9h0M317.1 188.1h0M253.0 205.1h0M301.3 174.7h0M177.0 169.1h0M302.9 131.9h0M199.1 199.4h0M296.8 168.4h0M207.0 137.1h0M289.8 148.1h0M300.5 181.9h0M293.4 216.1h0M333.3 189.3h0M329.9 118.3h0M211.2 196.7h0M230.7 191.0h0M316.5 216.0h0M328.5 185.5h0M249.5 194.9h0M325.8 143.8h0M324.8 198.4h0M262.7 137.9h0M244.8 188.4h0M308.6 167.1h0M242.3 204.2h0M352.7 158.0h0M355.4 218.9h0" stroke="#b0b0b0" stroke-opacity="0.25" stroke-width="3.4" stroke-linecap="round" fill="none"/>
<path d="M324.4 164.8h0M238.5 143.2h0M266.3 171.4h0M279.2 207.6h0M276.0 208.1h0M277.1 161.4h0M323.8 196.8h0M313.2 187.9h0M251.0 172.5h0M241.7 194.2h0M285.4 202.2h0M278.5 144.0h0M277.4 186.3h0M255.7 112.2h0M289.0 165.4h0M332.2 145.3h0M281.2 183.1h0M261.9 178.2h0M290.2 181.2h0M346.3 129.0h0M271.3 209.0h0M213.7 144.6h0M254.7 165.9h0M300.3 157.0h0M287.5 193.2h0M296.1 159.3h0M307.8 200.2h0M404.9 191.7h0M323.4 134.1h0M250.1 213.0h0M321.0 179.8h0M272.2 195.9h0M309.4 162.3h0M282.6 183.5h0M306.3 181.4h0M253.8 188.8h0M272.7 193.6h0M262.9 195.0h0M218.7 193.2h0M300.0 185.2h0M268.2 190.7h0M302.0 178.6h0M276.3 215.5h0M247.1 195.1h0M303.9 191.6h0M244.9 197.9h0M249.7 240.1h0M301.9 185.7h0M282.0 165.0h0M336.0 152.2h0M291.0 173.0h0M315.8 152.8h0M326.9 187.2h0M305.8 179.4h0" stroke="#b0b0b0" stroke-opacity="0.25" stroke-width="3.4" stroke-linecap="round" fill="none"/>
<path d="M337.8 158.6h0M275.7 176.4h0M252.4 183.9h0M297.9 149.8h0M230.6 166.4h0M252.1 182.8h0M263.2 180.3h0M291.5 207.9h0M292.2 233.1h0M237.6 180.8h0M256.9 199.7h0M334.4 181.2h0M380.7 182.7h0M276.4 190.6h0M310.9 178.3h0M233.5 154.3h0M302.9 185.5h0M298.1 162.6h0M351.7 197.9h0M297.4 171.2h0M369.8 127.3h0M375.2 159.4h0M310.8 161.3h0M265.1 190.2h0M301.5 143.0h0M313.2 135.2h0M301.1 180.6h0M344.3 136.6h0M284.2 195.7h0M267.5 168.8h0M319.9 176.0h0M296.8 178.2h0M285.0 172.6h0M317.4 194.4h0M324.2 216.3h0M235.9 200.8h0M333.5 195.5h0M289.1 170.9h0M361.4 130.9h0M267.7 174.3h0M269.8 189.0h0M327.6 157.2h0M217.7 188.2h0M219.9 182.0h0M342.0 150.0h0M315.1 203.1h0M277.7 135.4h0M301.9 190.4h0M304.5 176.4h0M314.2 194.1h0M284.7 192.3h0M323.0 189.8h0M324.0 149.1h0M323.1 183.4h0" stroke="#b0b0b0" stroke-opacity="0.25" stroke-width="3.4" stroke-linecap="round" fill="none"/>
<path d="M253.1 190.0h0M306.3 186.2h0M201.6 175.5h0M258.4 173.0h0M263.1 199.7h0M320.6 154.3h0M293.2 177.6h0M362.2 187.9h0M318.4 143.5h0M299.7 192.8h0M268.8 210.3h0M335.4 140.1h0M299.5 177.6h0M296.6 198.1h0M310.5 183.2h0M307.6 203.3h0M292.9 145.7h0M315.0 176.9h0M286.6 204.8h0M306.0 191.2h0M242.6 204.6h0M338.8 169.4h0M307.4 207.4h0M329.6 157.1h0M292.3 148.2h0M335.0 155.2h0M274.3 192.3h0M295.6 183.9h0M310.4 136.1h0M212.7 203.2h0M270.9 189.5h0M300.6 135.6h0M358.8 186.4h0M304.8 191.7h0M324.1 131.5h0M365.1 173.4h0M333.1 185.2h0M398.6 104.5h0M279.6 134.5h0M396.6 160.0h0M246.4 178.4h0M199.2 226.8h0M279.8 225.4h0M339.9 151.2h0M353.2 218.2h0M295.5 162.7h0M282.2 174.9h0M329.4 184.3h0M249.9 216.5h0M189.9 186.5h0M322.2 102.7h0M355.4 189.0h0M375.9 163.1h0M309.8 212.5h0" stroke="#b0b0b0" stroke-opacity="0.25" stroke-width="3.4" stroke-linecap="round" fill="none"/>
<path d="M272.9 155.0h0M338.5 145.0h0M324.6 180.8h0M267.1 240.3h0M261.9 191.8h0M399.6 146.5h0M335.7 183.1h0M312.0 192.3h0M278.1 181.6h0M347.4 188.4h0M297.7 156.3h0M357.5 118.2h0M238.3 182.7h0M316.3 156.1h0M312.6 178.6h0M308.4 125.2h0M318.5 146.7h0M262.8 140.7h0M277.7 208.5h0M300.1 169.9h0M343.3 131.0h0M355.0 157.6h0M226.6 213.4h0M397.3 120.4h0M232.4 220.1h0M220.6 205.9h0M334.8 150.9h0M319.9 182.9h0M305.9 139.9h0M306.9 221.1h0M309.3 202.7h0M302.1 176.1h0M328.5 149.3h0M282.6 180.9h0M309.1 179.6h0M318.9 173.8h0M310.3 186.7h0M249.8 173.0h0M277.3 179.5h0M349.9 154.8h0M293.2 206.4h0M246.9 191.8h0M333.5 161.5h0M289.5 186.8h0M330.4 173.4h0M365.5 112.7h0M236.4 208.6h0M340.1 168.1h0M377.3 133.0h0M366.0 144.1h0M266.0 198.9h0M314.6 151.5h0M324.4 159.0h0M309.9 176.4h0" stroke="#b0b0b0" stroke-opacity="0.25" stroke-width="3.4" stroke-linecap="round" fill="none"/>
<path d="M292.5 137.7h0M301.4 198.6h0M278.5 132.7h0M311.9 179.4h0M276.0 190.4h0M347.8 167.9h0M346.9 177.1h0M300.6 200.6h0M372.1 191.1h0M309.8 165.2h0M234.7 193.6h0M331.3 182.6h0M314.9 166.5h0M238.6 184.9h0M273.4 177.4h0M289.9 185.0h0M335.3 169.0h0M247.0 197.9h0M300.5 180.7h0M280.6 187.7h0M272.1 211.2h0M316.8 165.6h0M317.4 182.8h0M207.2 206.5h0M319.0 194.7h0M340.8 160.9h0M208.9 174.0h0M224.6 181.5h0M232.6 203.5h0M251.8 182.1h0M265.2 190.0h0M240.2 194.8h0M244.6 186.8h0M294.8 197.3h0M275.1 232.2h0M366.3 185.8h0M303.6 166.4h0M273.1 189.8h0M294.4 177.1h0M322.3 133.4h0M314.3 165.5h0M289.3 222.4h0M355.0 161.6h0M297.1 155.7h0M297.7 171.7h0M317.2 155.0h0M232.1 128.8h0M244.4 148.2h0M238.9 190.3h0M304.3 174.2h0M259.2 189.5h0M299.5 141.7h0M265.3 169.8h0M268.0 172.0h0" stroke="#b0b0b0" stroke-opacity="0.25" stroke-width="3.4" stroke-linecap="round" fill="none"/>
<path d="M345.6 142.5h0M255.5 199.6h0M294.4 150.8h0M345.5 130.1h0M241.4 196.6h0M339.2 173.1h0M266.2 193.3h0M279.2 219.3h0M310.6 170.6h0M312.7 178.3h0M252.0 191.5h0M310.6 216.5h0M342.4 168.7h0M364.7 188.4h0M325.6 232.6h0M238.2 192.2h0M306.4 181.8h0M270.3 194.0h0M236.2 229.3h0M330.6 160.7h0M359.4 194.4h0M190.8 164.0h0M308.0 185.9h0M349.0 169.6h0M283.1 190.5h0M367.4 139.9h0M333.8 204.3h0M324.3 155.7h0M356.2 201.7h0M241.4 202.2h0M285.9 214.5h0M259.9 176.1h0M294.1 172.8h0M285.0 195.4h0M305.6 184.6h0M302.2 133.2h0M271.8 204.5h0M269.7 219.4h0M288.2 192.7h0M348.8 171.3h0M217.1 203.4h0M255.3 147.1h0M338.6 224.8h0M390.4 171.2h0M360.7 215.1h0M277.3 196.6h0M293.3 175.5h0M274.7 209.5h0M325.0 205.0h0M283.3 186.8h0M288.0 188.7h0M264.0 190.7h0M351.0 146.9h0M285.7 185.7h0" stroke="#b0b0b0" stroke-opacity="0.25" stroke-width="3.4" stroke-linecap="round" fill="none"/>
<path d="M264.7 161.1h0M255.6 154.5h0M334.9 180.4h0M314.8 116.6h0M277.0 178.1h0M357.4 175.4h0M314.0 200.5h0M306.1 140.2h0M231.3 191.5h0M287.8 172.2h0M345.6 150.5h0M368.7 191.6h0M308.7 162.6h0M278.3 160.5h0M294.0 182.7h0M273.3 206.0h0M338.7 129.4h0M371.0 150.8h0M335.8 139.2h0M282.8 193.2h0M369.7 130.4h0M284.5 185.6h0M317.7 186.0h0M378.1 155.9h0M270.6 139.1h0M297.8 140.0h0M330.4 232.5h0M347.7 205.1h0M323.9 143.9h0M246.4 208.9h0M211.8 186.7h0M287.1 185.8h0M310.0 225.6h0M355.5 141.7h0M319.9 164.3h0M278.0 145.3h0M199.2 147.0h0M329.0 202.8h0M306.4 175.1h0M291.2 197.3h0M351.4 153.5h0M267.7 190.2h0M289.8 181.2h0M305.1 180.5h0M312.0 209.3h0M375.4 111.9h0M300.5 178.9h0M303.1 167.8h0M262.4 201.6h0M322.4 159.1h0M310.0 157.2h0M215.7 183.6h0M286.8 183.2h0M261.6 158.2h0" stroke="#b0b0b0" stroke-opacity="0.25" stroke-width="3.4" stroke-linecap="round" fill="none"/>
<path d="M195.9 215.8h0M359.7 153.8h0M353.8 197.9h0M314.1 188.3h0M279.9 159.1h0M257.3 115.6h0M326.3 179.5h0M368.9 111.9h0M327.3 137.1h0M275.2 199.7h0M290.7 183.8h0M322.7 214.6h0M312.8 171.5h0M333.1 177.0h0M348.7 177.4h0M295.4 208.4h0M321.8 154.4h0M329.9 137.9h0M254.2 164.6h0M353.1 109.0h0M313.1 182.8h0M314.7 158.7h0M244.6 155.4h0M212.6 182.9h0M317.8 198.8h0M315.9 204.9h0M322.1 177.9h0M344.2 146.5h0M329.8 207.4h0M307.1 192.4h0M277.5 179.6h0M337.4 177.2h0M326.7 187.4h0M324.4 144.5h0M293.4 151.5h0M327.6 204.1h0M301.6 154.9h0M283.2 190.6h0M343.1 147.6h0M394.7 160.9h0M319.7 153.9h0M280.7 138.3h0M170.2 183.0h0M299.0 157.0h0M320.8 184.6h0M293.8 113.5h0M284.0 144.1h0M220.3 247.1h0M328.0 139.0h0M394.6 167.9h0M303.2 180.9h0M323.3 192.2h0M329.0 129.8h0M298.5 192.3h0" stroke="#b0b0b0" stroke-opacity="0.25" stroke-width="3.4" stroke-linecap="round" fill="none"/>
<path d="M320.8 126.7h0M307.1 149.3h0M260.1 195.1h0M296.3 182.4h0M333.0 139.9h0M264.1 191.3h0M209.8 207.6h0M168.7 174.4h0M339.6 168.7h0M308.4 160.0h0M298.1 167.0h0M320.5 164.3h0M332.6 135.9h0M386.9 121.8h0M307.0 176.4h0M297.5 177.0h0M337.3 138.5h0M381.1 172.1h0M282.6 191.8h0M281.0 168.9h0M321.6 149.9h0M341.0 173.3h0M259.7 156.6h0M329.9 186.0h0M245.7 168.9h0M215.9 215.0h0M296.2 207.1h0M290.4 140.8h0M204.1 191.9h0M271.0 198.5h0M333.9 203.4h0M296.7 181.4h0M272.3 176.5h0M264.5 172.0h0M227.5 182.2h0M231.3 166.4h0M309.6 163.6h0M318.0 140.3h0M266.2 204.9h0M460.4 149.8h0M353.3 162.8h0M353.8 190.1h0M242.4 211.8h0M292.8 143.8h0M349.5 175.6h0M338.7 171.6h0M345.6 183.6h0M334.6 203.5h0M236.7 205.4h0M224.8 189.3h0M251.1 169.9h0M306.4 169.1h0M272.8 152.9h0M316.9 178.7h0" stroke="#b0b0b0" stroke-opacity="0.25" stroke-width="3.4" stroke-linecap="round" fill="none"/>
<path d="M335.7 176.1h0M303.2 130.0h0M259.4 183.2h0M393.5 95.7h0M336.6 171.7h0M360.8 181.9h0M299.8 166.4h0M252.1 190.3h0M291.7 139.1h0M276.7 154.8h0M379.9 101.2h0M315.6 156.7h0M261.4 136.2h0M279.8 201.0h0M308.7 175.8h0M246.2 136.4h0M364.9 163.3h0M408.7 94.8h0M325.8 183.1h0M264.6 153.9h0M281.4 123.1h0M251.5 168.8h0M334.7 213.0h0M306.2 171.8h0M309.5 134.3h0M319.5 143.7h0M258.3 161.5h0M303.6 189.1h0M342.5 143.1h0M347.3 151.4h0M316.4 208.7h0M313.5 190.9h0M274.6 156.4h0M253.5 203.1h0M223.6 175.6h0M293.7 132.3h0M337.6 205.9h0M300.6 182.9h0M301.5 174.5h0M330.1 206.6h0M355.2 165.2h0M322.1 187.2h0M316.6 173.7h0M277.0 212.3h0M317.6 200.1h0M337.9 176.1h0M340.2 165.4h0M246.7 194.0h0M298.3 130.9h0M337.3 156.3h0M264.3 192.8h0M351.9 184.5h0M235.9 154.7h0M297.1 188.6h0" stroke="#b0b0b0" stroke-opacity="0.25" stroke-width="3.4" stroke-linecap="round" fill="none"/>
<path d="M333.6 183.7h0M293.1 177.3h0M299.5 182.9h0M332.9 144.4h0M322.5 173.7h0M310.9 172.6h0M261.4 237.3h0M395.7 132.3h0M360.8 89.9h0M273.8 145.4h0M273.4 191.2h0M311.8 179.0h0M392.2 164.3h0M306.1 183.7h0M372.9 177.7h0M429.3 148.5h0M264.4 209.2h0M264.1 217.6h0M304.5 168.6h0M278.4 173.6h0M301.2 157.6h0M315.8 155.7h0M342.0 176.5h0M327.9 178.2h0M307.4 161.4h0M222.3 200.2h0M338.5 205.0h0M338.2 168.1h0M301.6 206.3h0M329.6 159.9h0M259.4 274.6h0M284.8 175.7h0M300.6 200.1h0M332.5 170.1h0M256.6 186.4h0M335.3 167.2h0M325.2 211.0h0M329.4 143.6h0M367.0 142.2h0M303.4 131.5h0M379.4 195.6h0M366.0 142.9h0M344.1 116.7h0M271.0 172.5h0M318.2 227.1h0M297.9 157.4h0M219.4 196.0h0M280.8 176.0h0M253.3 200.9h0M324.7 190.9h0M321.0 186.4h0M258.2 180.1h0M372.5 171.3h0M303.7 200.7h0" stroke="#b0b0b0" stroke-opacity="0.25" stroke-width="3.4" stroke-linecap="round" fill="none"/>
<path d="M357.6 209.7h0M301.5 212.6h0M308.6 195.4h0M278.3 127.1h0M303.3 129.9h0M383.3 144.1h0M333.0 132.6h0M378.8 178.8h0M303.1 171.4h0M340.3 146.5h0M265.0 170.7h0M189.8 197.7h0M279.8 167.6h0M315.2 176.9h0M385.1 136.5h0M392.5 137.0h0M336.7 176.7h0M297.2 140.6h0M196.1 191.4h0M328.3 159.2h0M364.4 168.1h0M308.6 203.1h0M347.5 133.8h0M276.3 156.2h0M261.6 153.3h0M209.0 181.5h0M291.0 210.3h0M202.8 188.7h0M256.8 199.1h0M303.3 161.3h0M227.5 204.9h0M251.4 184.2h0M339.4 187.9h0M308.2 178.8h0M304.5 210.2h0M272.4 211.5h0M297.9 185.3h0M348.4 192.7h0M349.3 138.7h0M301.1 142.4h0M294.8 154.0h0M241.5 157.2h0M264.5 205.1h0M369.2 163.4h0M347.0 188.3h0M265.7 181.7h0M268.5 186.0h0M326.3 178.7h0M374.8 202.9h0M279.6 231.5h0M240.8 185.8h0M316.5 164.2h0M322.3 197.5h0M310.0 194.2h0" stroke="#b0b0b0" stroke-opacity="0.25" stroke-width="3.4" stroke-linecap="round" fill="none"/>
<path d="M391.2 211.5h0M362.5 116.8h0M270.7 182.9h0M248.8 238.2h0M225.8 172.7h0M333.2 187.9h0M226.8 187.7h0M357.5 180.7h0M328.9 245.6h0M310.3 189.8h0M309.4 146.1h0M232.6 180.6h0M290.0 165.9h0M309.8 144.1h0M329.8 182.3h0M350.6 176.1h0M311.9 129.9h0M320.7 142.1h0M283.0 158.1h0M337.8 153.3h0M337.7 127.4h0M241.7 201.3h0M290.3 187.7h0M367.5 184.6h0M317.7 178.7h0M324.6 160.5h0M334.0 157.8h0M260.1 206.0h0M354.8 126.7h0M334.5 183.6h0M271.9 138.6h0M331.3 166.4h0M317.5 124.7h0M232.1 185.0h0M282.6 222.7h0M321.5 194.9h0M294.6 206.2h0M288.9 180.7h0M342.4 193.7h0M330.8 148.0h0M232.1 226.1h0M285.9 205.4h0M309.1 136.4h0M296.2 164.6h0M349.2 139.1h0M263.5 128.0h0M272.4 156.7h0M244.9 206.5h0M400.1 141.8h0M276.8 147.6h0M391.9 173.5h0M349.2 154.5h0M259.9 137.7h0M227.6 162.9h0" stroke="#b0b0b0" stroke-opacity="0.25" stroke-width="3.4" stroke-linecap="round" fill="none"/>
<path d="M292.9 174.1h0M333.9 201.3h0M315.2 143.0h0M346.2 189.2h0M293.1 183.9h0M314.2 181.6h0M252.0 196.4h0M248.9 127.0h0M346.6 125.0h0M300.7 157.0h0M324.8 146.6h0M376.0 149.5h0M287.7 178.9h0M322.1 158.2h0M346.2 135.7h0M260.5 97.2h0M368.8 202.0h0M331.6 149.7h0M319.9 183.0h0M302.5 191.6h0M301.0 161.5h0M327.9 209.3h0M401.5 199.7h0M294.4 185.9h0M284.1 139.9h0M328.5 202.4h0M363.4 164.3h0M297.9 178.6h0M271.5 163.9h0M336.0 145.3h0M296.8 215.9h0M306.1 205.6h0M364.1 164.6h0M297.2 181.5h0M304.2 133.7h0M209.9 227.8h0M329.0 160.3h0M286.8 161.7h0M323.5 181.3h0M310.2 180.8h0M311.0 143.5h0M189.8 226.2h0M297.8 182.6h0M236.9 216.3h0M246.5 187.4h0M314.4 161.3h0M301.8 141.5h0M293.8 183.1h0M296.4 188.1h0M406.5 149.2h0M207.7 214.9h0M316.1 159.3h0M298.1 141.6h0M288.8 187.0h0" stroke="#b0b0b0" stroke-opacity="0.25" stroke-width="3.4" stroke-linecap="round" fill="none"/>
<path d="M344.3 105.7h0M250.1 167.0h0M369.5 155.1h0M351.1 195.2h0M264.8 232.3h0M264.7 183.2h0M339.9 178.4h0M216.1 227.5h0M232.5 194.8h0M332.9 162.8h0M260.3 164.6h0M320.5 102.7h0M277.5 172.6h0M318.1 161.6h0M330.9 153.5h0M292.7 173.7h0M278.8 203.7h0M284.4 154.9h0M376.9 165.6h0M312.7 142.4h0M290.1 167.9h0M273.0 151.4h0M367.0 185.0h0M348.5 164.9h0M243.3 153.6h0M280.4 161.2h0M266.0 119.4h0M360.4 154.8h0M173.1 184.1h0M267.2 152.9h0M374.3 173.1h0M341.6 156.7h0M314.2 167.5h0M308.8 116.6h0M369.5 146.6h0M288.2 194.9h0M225.3 201.3h0M298.5 146.2h0M285.2 180.3h0M279.5 214.7h0M245.4 229.0h0M290.1 136.7h0M249.4 219.5h0M292.8 186.5h0M292.6 163.2h0M308.7 172.6h0M200.5 163.7h0M347.4 163.0h0M251.8 226.7h0M387.3 204.2h0M279.6 177.5h0M185.7 191.5h0M280.5 182.6h0M357.9 178.0h0" stroke="#b0b0b0" stroke-opacity="0.25" stroke-width="3.4" stroke-linecap="round" fill="none"/>
<path d="M339.4 146.0h0M311.7 145.6h0M287.3 131.0h0M349.5 154.1h0M359.0 229.5h0M348.6 158.0h0M310.8 155.6h0M245.6 214.3h0M215.1 128.2h0M280.7 177.6h0M257.6 187.0h0M309.4 130.2h0M294.4 134.5h0M306.3 199.8h0M335.7 164.2h0M237.1 185.7h0M233.5 193.7h0M364.0 188.4h0M255.2 186.2h0M259.4 195.7h0M241.5 203.7h0M327.1 161.8h0M314.1 191.1h0M385.2 125.9h0M370.2 169.7h0M286.9 143.0h0M276.6 206.2h0M310.2 193.4h0M262.5 173.2h0M325.9 198.9h0M267.0 191.3h0M309.2 204.3h0M334.7 161.0h0M302.6 178.6h0M301.0 172.3h0M337.4 187.1h0M323.9 126.2h0M361.9 124.8h0M393.2 127.4h0M312.0 177.9h0M344.7 178.0h0M347.9 150.3h0M292.5 215.2h0M308.2 137.1h0M310.3 163.0h0M367.7 200.7h0M349.0 181.9h0M283.1 191.7h0M252.6 219.9h0M274.2 169.3h0M264.1 203.0h0M426.5 115.7h0M339.8 188.9h0M241.8 200.7h0" stroke="#b0b0b0" stroke-opacity="0.25" stroke-width="3.4" stroke-linecap="round" fill="none"/>
<path d="M238.7 196.1h0M358.5 134.0h0M206.5 177.5h0M285.7 163.7h0M338.5 173.0h0M214.8 204.4h0M310.7 149.2h0M259.0 155.9h0M271.3 172.3h0M340.5 130.5h0M365.6 148.9h0M330.6 172.9h0M267.6 183.5h0M335.9 155.0h0M244.2 129.9h0M332.0 178.2h0M344.3 110.1h0M340.4 110.8h0M330.0 142.6h0M309.4 152.6h0M288.9 226.0h0M280.6 163.3h0M201.3 196.9h0M242.5 159.7h0M289.4 145.5h0M285.9 195.4h0M265.3 201.3h0M271.9 163.2h0M353.4 142.3h0M318.1 134.8h0M363.8 146.0h0M225.4 183.3h0M334.2 173.5h0M233.4 214.9h0M364.3 173.4h0M208.9 166.0h0M275.3 209.8h0M305.6 219.0h0M281.9 200.3h0M275.5 174.7h0M346.2 145.5h0M257.2 243.8h0M251.2 134.2h0M328.9 171.2h0M235.4 175.9h0M279.6 175.8h0M307.7 130.2h0M281.3 214.8h0M308.2 127.8h0M283.0 170.3h0M330.6 174.4h0M321.7 152.2h0M260.0 183.2h0M258.2 186.5h0" stroke="#b0b0b0" stroke-opacity="0.25" stroke-width="3.4" stroke-linecap="round" fill="none"/>
<path d="M337.5 145.2h0M326.5 139.3h0M356.1 198.6h0M280.7 189.1h0M286.4 139.8h0M295.4 103.9h0M313.8 178.8h0M281.3 181.1h0M320.7 186.2h0M219.0 173.4h0M288.4 168.7h0M301.6 120.3h0M226.2 147.7h0M244.8 197.3h0M299.5 141.6h0M296.8 173.5h0M317.9 159.7h0M294.8 217.9h0M283.7 158.1h0M314.9 166.6h0M391.8 174.4h0M349.0 147.7h0M250.1 172.8h0M296.3 184.4h0M209.2 159.3h0M253.5 172.6h0M204.9 182.7h0M272.7 144.8h0M360.7 176.9h0M323.3 132.5h0M290.6 160.3h0M343.5 232.6h0M306.7 187.3h0M238.3 173.4h0M271.5 184.1h0M329.5 202.6h0M272.3 177.2h0M271.9 178.7h0M403.5 177.0h0M271.4 187.7h0M267.6 179.3h0M322.3 154.2h0M291.3 204.5h0M319.6 207.0h0M218.2 189.8h0M254.2 186.6h0M331.8 157.4h0M323.2 178.8h0M320.0 144.2h0M344.2 211.0h0M339.0 164.7h0M286.1 127.7h0M279.9 174.1h0M260.7 190.7h0" stroke="#b0b0b0" stroke-opacity="0.25" stroke-width="3.4" stroke-linecap="round" fill="none"/>
<path d="M279.5 160.6h0M443.0 208.2h0M303.8 159.8h0M368.9 121.1h0M310.4 186.4h0M274.8 177.9h0M296.8 178.1h0M222.1 149.7h0M336.3 173.2h0M253.2 183.2h0M296.2 219.8h0M353.6 125.6h0M331.6 172.1h0M347.0 172.9h0M290.2 160.4h0M350.0 164.9h0M306.6 176.9h0M253.8 186.2h0M268.9 168.6h0M373.3 182.8h0M306.2 176.9h0M271.3 217.5h0M231.6 221.0h0M272.1 185.7h0M273.0 206.8h0M294.0 177.1h0M239.9 226.1h0M309.9 202.8h0M319.5 215.1h0M375.7 183.7h0M400.4 140.3h0M268.3 207.5h0M308.9 196.7h0M344.7 112.5h0M370.0 181.0h0M266.0 184.7h0M309.5 146.0h0M298.3 197.5h0M323.7 195.7h0M340.3 132.0h0M328.7 179.9h0M300.7 139.0h0M257.0 206.8h0M294.1 173.3h0M308.1 142.8h0M286.6 191.3h0M295.9 186.1h0M351.7 180.3h0M354.1 134.4h0M387.1 155.8h0M280.3 199.1h0M327.4 189.0h0M282.7 145.1h0M338.9 154.3h0" stroke="#b0b0b0" stroke-opacity="0.25" stroke-width="3.4" stroke-linecap="round" fill="none"/>
<path d="M324.5 227.0h0M329.3 203.0h0M222.3 181.6h0M267.8 166.5h0M318.7 196.7h0M254.9 168.7h0M276.9 132.8h0M278.4 123.0h0M346.8 147.2h0M382.6 92.4h0M301.4 177.4h0M347.6 188.1h0M232.8 155.4h0M334.7 149.2h0M348.9 160.4h0M286.5 151.3h0M327.3 179.6h0M290.0 153.6h0M270.8 182.0h0M225.8 183.2h0M316.4 181.1h0M292.9 195.6h0M310.1 142.0h0M247.3 166.2h0M263.5 184.4h0M226.1 184.7h0M290.8 172.5h0M288.0 179.9h0M243.6 195.8h0M245.9 233.4h0M192.6 166.0h0M270.9 156.4h0M322.7 139.0h0M236.3 202.5h0M249.7 189.9h0M397.0 174.3h0M302.0 151.2h0M246.7 203.9h0M333.8 180.0h0M344.9 224.4h0M197.8 209.7h0M312.2 172.6h0M271.0 172.9h0M254.1 196.8h0M321.0 156.3h0M302.9 150.0h0M264.4 131.1h0M291.3 189.6h0M295.3 148.1h0M364.0 133.1h0M358.8 147.7h0M301.3 203.2h0M390.3 243.2h0M316.9 186.2h0" stroke="#b0b0b0" stroke-opacity="0.25" stroke-width="3.4" stroke-linecap="round" fill="none"/>
<path d="M318.3 195.8h0M375.9 148.2h0M368.4 184.6h0M318.7 99.9h0M301.0 127.0h0M359.9 110.2h0M238.4 214.6h0M357.2 164.5h0M312.5 207.7h0M225.0 178.1h0M344.2 133.4h0M315.3 142.4h0M286.1 146.1h0M317.1 137.4h0M242.2 197.0h0M330.3 181.7h0M345.6 177.8h0M261.9 146.5h0M369.9 166.0h0M339.6 154.8h0M347.7 170.2h0M366.8 128.5h0M237.4 228.9h0M286.3 209.7h0M273.1 122.3h0M310.6 166.3h0M342.3 182.1h0M348.5 124.8h0M289.7 154.4h0M356.3 136.6h0M333.5 153.8h0M207.1 172.6h0M219.5 202.0h0M291.8 169.4h0M331.2 155.3h0M336.6 192.7h0M206.9 205.9h0M320.1 180.4h0M245.5 158.3h0M289.2 167.8h0M296.3 179.7h0M297.2 212.6h0M318.9 156.0h0M338.8 138.1h0M246.7 132.8h0M324.5 168.3h0M248.4 187.3h0M287.6 182.0h0M310.5 148.2h0M238.8 159.5h0M248.2 163.2h0M308.3 198.9h0M265.0 169.5h0M259.5 200.6h0" stroke="#b0b0b0" stroke-opacity="0.25" stroke-width="3.4" stroke-linecap="round" fill="none"/>
<path d="M288.0 159.2h0M333.9 185.0h0M313.8 188.1h0M295.1 138.7h0M324.2 156.2h0M294.8 184.5h0M320.7 202.0h0M244.2 251.0h0M297.5 110.9h0M411.7 179.5h0M238.5 160.9h0M330.1 147.4h0M315.9 209.3h0M274.2 190.5h0M337.1 206.2h0M328.9 178.4h0M333.6 198.8h0M301.1 198.1h0M251.2 209.9h0M288.9 187.4h0M306.6 129.1h0M243.6 201.5h0M244.9 187.5h0M296.4 134.9h0M248.0 175.5h0M233.5 202.0h0M264.5 214.1h0M196.5 173.8h0M260.7 186.3h0M319.0 181.8h0M290.3 212.4h0M277.1 205.5h0M294.3 179.8h0M320.0 227.2h0M370.9 179.7h0M244.9 162.5h0M227.1 203.1h0M278.6 153.9h0M343.2 177.7h0M211.3 175.5h0M284.8 166.9h0M303.8 206.4h0M289.4 154.6h0M355.3 133.5h0M323.1 132.7h0M269.7 115.2h0M304.1 185.6h0M339.6 190.8h0M337.4 172.9h0M334.6 179.1h0M291.8 183.8h0M345.7 218.0h0M292.8 199.2h0M236.6 185.7h0" stroke="#b0b0b0" stroke-opacity="0.25" stroke-width="3.4" stroke-linecap="round" fill="none"/>
<path d="M329.8 154.1h0M203.4 190.3h0M367.0 155.4h0M297.9 173.5h0M386.4 134.2h0M293.0 175.0h0M299.5 203.0h0M351.6 173.2h0M332.6 128.1h0M350.4 158.1h0M401.8 151.6h0M292.6 138.8h0M407.7 176.8h0M300.0 164.5h0M309.2 171.6h0M350.6 196.3h0M317.1 186.3h0M293.6 170.0h0M288.8 162.7h0M193.4 215.2h0M268.5 187.9h0M269.5 184.0h0M329.1 130.2h0M268.8 186.0h0M322.4 128.9h0M252.9 197.4h0M297.6 137.3h0M403.8 156.4h0M325.3 167.8h0M211.4 182.1h0M401.0 170.2h0M368.4 150.9h0M303.9 189.2h0M305.9 138.9h0M250.6 176.8h0M344.3 182.4h0M267.6 186.1h0M338.7 176.7h0M332.4 195.4h0M303.9 183.0h0M246.4 158.8h0M301.8 164.8h0M328.1 160.0h0M340.4 186.4h0M329.0 124.7h0M296.6 178.9h0M241.7 197.2h0M303.9 129.6h0M284.0 166.7h0M255.3 140.3h0M301.5 116.3h0M364.0 153.9h0M354.4 102.5h0M334.9 183.3h0" stroke="#b0b0b0" stroke-opacity="0.25" stroke-width="3.4" stroke-linecap="round" fill="none"/>
<path d="M295.3 198.0h0M301.3 155.4h0M314.1 201.8h0M421.9 187.6h0M310.4 225.2h0M344.1 178.2h0M276.6 194.7h0M271.8 188.7h0M324.9 165.6h0M287.6 164.0h0M323.8 129.5h0M323.7 211.4h0M325.8 178.5h0M290.5 178.6h0M281.3 149.5h0M308.0 193.8h0M276.1 191.3h0M337.0 211.9h0M258.0 142.8h0M309.6 213.8h0M324.8 142.7h0M282.1 154.7h0M266.1 188.8h0M315.9 202.0h0M243.0 185.1h0M331.4 179.8h0M205.5 213.5h0M320.3 181.2h0M311.4 194.3h0M339.2 176.2h0M305.8 190.9h0M304.4 188.0h0M275.5 168.8h0M348.8 226.8h0M301.7 163.9h0M315.7 169.9h0M332.5 175.2h0M279.7 163.3h0M318.2 130.7h0M350.0 170.2h0M251.6 220.0h0M364.2 193.2h0M236.0 139.2h0M329.9 174.1h0M338.6 167.3h0M220.2 151.5h0M308.1 157.3h0M320.1 202.3h0M297.3 165.6h0M328.3 198.4h0M393.9 115.9h0M329.8 203.8h0M316.5 186.8h0M228.8 171.9h0" stroke="#b0b0b0" stroke-opacity="0.25" stroke-width="3.4" stroke-linecap="round" fill="none"/>
<path d="M306.1 155.4h0M259.1 173.8h0M227.2 180.9h0M318.5 175.3h0M329.0 183.3h0M285.2 152.1h0M368.0 172.4h0M257.9 214.0h0M292.6 113.5h0M304.3 147.2h0M312.1 200.4h0M275.2 233.4h0M322.9 180.1h0M292.7 176.9h0M329.8 212.8h0M284.7 206.0h0M229.9 215.8h0M304.6 198.7h0M300.1 180.3h0M425.5 170.9h0M297.3 194.6h0M298.0 167.1h0M319.4 170.0h0M231.3 175.5h0M334.4 171.7h0M329.5 112.8h0M238.1 195.0h0M266.0 196.6h0M285.5 171.9h0M315.7 179.0h0M342.7 176.8h0M305.8 140.4h0M337.3 203.5h0M384.4 150.1h0M282.8 176.2h0M302.7 132.6h0M313.8 143.7h0M291.4 188.4h0M224.6 160.6h0M272.1 184.3h0M286.8 143.1h0M270.3 167.1h0M228.6 208.5h0M303.6 169.5h0M333.6 145.0h0M318.8 235.4h0M274.9 189.2h0M242.0 176.6h0M313.7 150.6h0M333.7 201.2h0M310.1 143.9h0M283.1 205.4h0M309.6 134.8h0M264.9 194.2h0" stroke="#b0b0b0" stroke-opacity="0.25" stroke-width="3.4" stroke-linecap="round" fill="none"/>
<path d="M280.5 128.9h0M222.4 162.0h0M270.4 204.5h0M348.8 181.3h0M272.3 216.9h0M377.1 178.8h0M368.4 135.9h0M329.0 187.9h0M291.1 153.5h0M303.0 186.6h0M332.6 122.5h0M290.3 173.5h0M330.8 188.1h0M246.5 191.7h0M278.3 191.5h0M313.3 165.7h0M294.5 151.7h0M335.6 192.3h0M373.1 132.3h0M275.6 174.4h0M299.0 125.2h0M318.7 147.7h0M334.8 154.2h0M277.1 192.1h0M375.3 201.9h0M366.3 130.6h0M316.0 192.6h0M311.6 155.8h0M279.2 192.7h0M316.1 179.9h0M280.7 208.1h0M278.4 230.8h0M259.2 134.9h0M368.7 169.6h0M369.0 174.8h0M357.4 213.1h0M264.3 183.0h0M230.0 153.2h0M306.1 167.2h0M289.4 147.9h0M287.5 192.1h0M301.1 110.3h0M308.6 190.8h0M301.7 181.9h0M272.1 217.1h0M343.3 134.8h0M324.5 212.1h0M288.0 153.3h0M285.3 166.2h0M336.2 145.1h0M314.4 177.8h0M276.9 196.6h0M327.5 188.6h0M174.9 154.8h0" stroke="#b0b0b0" stroke-opacity="0.25" stroke-width="3.4" stroke-linecap="round" fill="none"/>
<path d="M291.2 147.1h0M335.0 199.7h0M305.7 195.5h0M306.1 157.9h0M333.5 170.3h0M395.6 163.9h0M244.1 132.9h0M276.9 165.8h0M357.0 115.7h0M323.0 190.9h0M302.1 167.4h0M304.8 161.4h0M272.3 216.3h0M279.8 160.5h0M233.7 184.6h0M285.4 167.3h0M237.1 199.7h0M298.3 161.3h0M267.6 206.7h0M327.8 146.7h0M276.5 180.5h0M251.7 174.9h0M286.4 153.6h0M319.2 228.2h0M312.0 181.1h0M366.8 138.7h0M329.4 159.0h0M390.0 207.5h0M325.3 184.5h0M288.3 156.6h0M333.0 135.0h0M238.2 182.3h0M315.0 182.4h0M243.4 217.2h0M323.4 161.6h0M315.4 202.4h0M273.9 122.5h0M269.2 185.9h0M316.7 207.0h0M283.3 202.7h0M209.9 193.4h0M252.6 174.0h0M269.9 209.6h0M337.7 147.0h0M303.6 200.1h0M313.4 195.8h0M216.0 216.6h0M341.2 174.5h0M245.8 185.9h0M224.1 179.3h0M390.8 189.3h0M203.3 184.3h0M337.3 166.0h0M336.7 208.4h0" stroke="#b0b0b0" stroke-opacity="0.25" stroke-width="3.4" stroke-linecap="round" fill="none"/>
<path d="M303.1 154.3h0M293.6 232.7h0M280.3 194.4h0M310.0 200.4h0M312.5 159.0h0M343.7 191.5h0M384.9 181.5h0M289.0 160.5h0M250.1 147.0h0M334.0 187.4h0M349.4 135.8h0M306.9 155.3h0M345.8 210.7h0M324.8 207.5h0M329.6 173.5h0M320.4 135.1h0M307.0 194.5h0M307.8 183.4h0M300.7 190.5h0M236.7 174.0h0M280.8 161.0h0M316.3 200.3h0M316.9 168.2h0M350.5 178.0h0M318.0 196.9h0M319.2 159.7h0M261.0 188.7h0M282.0 102.4h0M370.3 186.2h0M287.4 159.1h0M316.2 181.3h0M309.3 163.0h0M257.7 191.4h0M312.0 208.3h0M205.7 138.6h0M355.3 133.0h0M287.5 198.9h0M313.7 217.3h0M328.2 165.2h0M378.1 85.6h0M300.9 144.0h0M255.9 206.2h0M301.7 168.1h0M362.9 215.5h0M195.9 184.0h0M270.0 191.3h0M292.1 163.6h0M324.7 183.2h0M284.0 179.3h0M328.4 159.9h0M349.6 183.3h0M382.9 132.4h0M288.1 174.9h0M325.6 183.3h0" stroke="#b0b0b0" stroke-opacity="0.25" stroke-width="3.4" stroke-linecap="round" fill="none"/>
<path d="M402.7 113.2h0M240.2 150.7h0M273.9 175.5h0M237.1 250.0h0M381.2 160.1h0M240.4 190.4h0M328.9 202.5h0M314.6 177.3h0M333.3 205.3h0M342.0 154.3h0M341.9 177.6h0M269.6 177.8h0M417.3 170.9h0M330.0 184.7h0M251.9 200.4h0M368.3 151.2h0M313.5 192.6h0M234.5 139.7h0M241.2 164.3h0M225.3 161.2h0M268.6 177.0h0M353.3 169.5h0M345.8 154.3h0M280.1 174.7h0M317.9 128.9h0M310.3 154.5h0M293.7 217.9h0M263.3 188.6h0M295.8 136.4h0M277.9 154.7h0M303.6 137.1h0M267.4 152.9h0M279.7 184.4h0M272.3 225.9h0M385.0 129.2h0M317.8 192.7h0M385.6 131.1h0M355.1 135.6h0M295.7 185.4h0M220.6 158.7h0M307.6 80.7h0M272.8 146.3h0M368.1 129.9h0M289.4 193.3h0M362.5 130.3h0M278.1 180.6h0M276.2 194.0h0M351.0 125.6h0M270.9 164.7h0M372.5 146.0h0M291.4 180.5h0M260.7 174.1h0M380.2 234.3h0M359.2 164.6h0" stroke="#b0b0b0" stroke-opacity="0.25" stroke-width="3.4" stroke-linecap="round" fill="none"/>
<path d="M311.3 166.1h0M330.8 133.6h0M228.4 184.1h0M304.2 173.4h0M263.5 174.4h0M366.1 204.9h0M308.9 173.6h0M316.0 138.7h0M376.7 188.7h0M368.2 118.6h0M309.4 185.1h0M352.2 176.1h0M318.8 177.2h0M339.7 191.8h0M349.2 206.9h0M318.7 179.9h0M328.8 162.8h0M309.0 154.8h0M246.4 163.3h0M314.5 167.8h0M227.6 181.6h0M334.0 189.8h0M287.7 129.9h0M335.9 150.1h0M313.1 137.3h0M225.7 152.3h0M357.3 140.1h0M321.0 193.1h0M185.8 195.0h0M260.3 173.0h0M255.3 171.8h0M234.5 161.1h0M328.4 174.2h0M283.0 173.2h0M345.0 159.9h0M240.4 191.5h0M332.4 140.3h0M319.3 180.8h0M274.1 192.8h0M295.6 176.2h0M256.6 152.1h0M309.8 174.8h0M287.0 119.9h0M305.7 174.7h0M266.2 164.5h0M263.0 186.1h0M245.4 216.7h0M202.8 184.1h0M254.5 182.3h0M249.3 175.8h0M487.1 139.4h0M316.2 150.4h0M293.3 172.3h0M329.0 123.1h0" stroke="#b0b0b0" stroke-opacity="0.25" stroke-width="3.4" stroke-linecap="round" fill="none"/>
<path d="M287.0 203.4h0M276.8 159.1h0M270.1 193.2h0M261.1 200.4h0M375.1 203.0h0M344.6 175.4h0M288.8 169.3h0M284.8 182.3h0M380.8 148.1h0M290.0 129.4h0M281.5 206.9h0M321.5 149.2h0M246.8 132.3h0M296.8 204.6h0M292.2 163.0h0M325.8 160.9h0M265.3 164.3h0M325.8 194.7h0M322.7 174.0h0M249.5 174.5h0M318.2 166.4h0M321.4 151.3h0M327.2 177.4h0M239.6 207.8h0M284.0 154.3h0M301.3 135.6h0M291.7 190.8h0M363.0 155.2h0M366.2 191.9h0M292.6 148.7h0M281.9 180.3h0M308.8 196.1h0M289.7 161.8h0M267.6 137.7h0M242.8 182.6h0M328.0 207.6h0M335.4 196.7h0M184.7 120.1h0M368.7 170.1h0M338.4 209.2h0M292.4 166.0h0M302.9 169.2h0M269.8 204.6h0M293.0 186.0h0M435.5 142.1h0M269.9 150.1h0M340.7 147.0h0M329.4 164.3h0M395.1 124.0h0M282.6 190.8h0M400.2 132.0h0M271.4 201.1h0M307.7 197.9h0M235.8 79.5h0" stroke="#b0b0b0" stroke-opacity="0.25" stroke-width="3.4" stroke-linecap="round" fill="none"/>
<path d="M276.5 212.4h0M263.1 210.8h0M373.9 166.5h0M289.9 118.7h0M263.6 217.4h0M305.6 173.7h0M354.9 186.4h0M391.2 177.4h0M309.5 192.0h0M308.0 159.2h0M283.8 209.3h0M290.4 203.1h0M274.3 183.7h0M299.1 149.4h0M299.3 124.8h0M284.7 161.3h0M367.4 149.7h0M391.8 160.9h0M312.9 132.6h0M209.5 190.4h0M261.4 218.5h0M279.2 197.2h0M305.5 188.7h0M229.6 165.8h0M253.3 184.1h0M187.8 214.1h0M326.8 153.4h0M343.7 204.2h0M272.5 194.5h0M387.2 138.0h0M253.7 178.5h0M312.4 188.0h0M313.8 166.5h0M289.8 167.5h0M358.3 153.8h0M276.5 189.4h0M257.3 187.2h0M278.1 176.8h0M374.1 136.3h0M244.7 157.6h0M283.1 139.8h0M308.1 192.3h0M338.8 220.4h0M286.1 144.2h0M270.6 196.9h0M308.5 144.2h0M299.1 130.5h0M269.0 129.1h0M295.2 181.6h0M277.1 156.5h0M304.9 197.8h0M314.5 200.9h0M308.8 163.1h0M297.3 111.9h0" stroke="#b0b0b0" stroke-opacity="0.25" stroke-width="3.4" stroke-linecap="round" fill="none"/>
<path d="M353.3 147.7h0M281.4 174.3h0M294.0 162.6h0M277.8 107.3h0M289.6 194.5h0M371.0 140.4h0M300.8 173.0h0M266.4 189.8h0M366.2 157.9h0M370.1 132.6h0M271.7 159.1h0M274.0 199.6h0M322.7 133.6h0M287.4 142.0h0M354.0 170.0h0M314.2 129.3h0M311.1 203.5h0M207.9 212.2h0M344.4 230.1h0M342.3 120.1h0M348.2 132.0h0M326.5 178.2h0M328.8 185.7h0M284.7 164.6h0M285.8 200.8h0M268.6 184.4h0M262.7 208.6h0M306.6 170.9h0M341.2 187.8h0M281.2 179.3h0M286.2 161.5h0M209.5 185.8h0M236.8 119.1h0M295.3 188.3h0M339.2 156.4h0M274.1 145.1h0M328.8 195.1h0M280.9 158.4h0M388.0 125.3h0M354.8 196.4h0M329.9 167.6h0M282.6 196.8h0M293.6 195.1h0M345.8 178.4h0M284.7 216.9h0M349.7 178.2h0M254.9 169.5h0M323.0 168.1h0M230.1 217.7h0M297.8 212.7h0M310.8 169.0h0M296.5 187.1h0M234.3 210.5h0M301.3 189.4h0" stroke="#b0b0b0" stroke-opacity="0.25" stroke-width="3.4" stroke-linecap="round" fill="none"/>
<path d="M304.0 168.9h0M329.3 178.8h0M279.3 173.7h0M291.8 166.7h0M276.1 198.3h0M298.4 164.6h0M246.8 263.1h0M320.7 123.5h0M272.3 168.6h0M335.1 200.3h0M371.6 132.5h0M269.5 159.2h0M285.8 190.9h0M298.2 192.0h0M310.2 146.7h0M223.7 177.6h0M282.4 182.2h0M238.0 181.4h0M294.7 189.8h0M349.6 181.3h0M389.2 150.2h0M308.3 202.6h0M337.1 185.4h0M332.2 181.6h0M244.9 227.8h0M342.1 166.6h0M312.7 218.4h0M319.0 156.8h0M260.7 191.9h0M246.7 201.1h0M307.7 170.8h0M334.4 176.6h0M318.6 155.4h0M269.6 192.7h0M299.6 142.7h0M271.8 142.0h0M293.6 197.3h0M246.0 158.4h0M400.0 167.3h0M290.7 182.6h0M284.3 218.4h0M274.3 177.0h0M284.5 101.4h0M325.9 203.8h0M231.1 206.4h0M246.4 189.6h0M331.5 172.3h0M321.4 198.8h0M223.8 212.4h0M373.4 138.3h0M364.3 139.6h0M280.2 166.7h0M350.1 174.6h0M325.1 150.9h0" stroke="#b0b0b0" stroke-opacity="0.25" stroke-width="3.4" stroke-linecap="round" fill="none"/>
<path d="M296.3 174.4h0M243.6 140.8h0M300.1 169.8h0M361.9 148.7h0M311.6 190.5h0M319.9 196.4h0M275.1 166.8h0M341.4 174.9h0M233.7 231.6h0M291.9 192.1h0M204.3 194.6h0M353.7 123.8h0M332.9 166.8h0M293.3 144.6h0M292.7 164.6h0M282.4 181.1h0M307.3 162.2h0M311.3 206.4h0M320.2 183.8h0M296.1 155.9h0M238.0 191.8h0M273.9 172.8h0M349.3 136.4h0M346.3 203.1h0M326.0 182.7h0M239.2 200.1h0M284.6 187.4h0M230.9 178.5h0M286.3 152.8h0M306.5 187.0h0M289.8 208.3h0M279.6 192.3h0M368.5 177.5h0M266.7 178.4h0M321.9 137.8h0M332.9 187.8h0M222.0 163.5h0M306.3 196.9h0M315.2 162.4h0M317.3 156.5h0M302.5 120.2h0M309.4 168.7h0M314.8 193.4h0M289.7 173.4h0M410.5 165.1h0M382.6 133.2h0M303.5 162.0h0M308.2 166.2h0M336.3 205.9h0M320.8 128.2h0M320.6 177.0h0M347.7 126.0h0M246.7 210.1h0M352.2 181.6h0" stroke="#b0b0b0" stroke-opacity="0.25" stroke-width="3.4" stroke-linecap="round" fill="none"/>
<path d="M291.8 181.9h0M304.2 159.9h0M260.6 176.5h0M237.4 172.7h0M269.7 210.9h0M300.5 219.0h0M352.0 185.4h0M274.7 171.0h0M280.4 149.0h0M290.2 231.2h0M311.7 113.0h0M328.9 158.0h0M348.3 166.0h0M303.2 158.8h0M248.1 161.2h0M303.8 217.4h0M297.0 180.5h0M313.1 163.6h0M292.8 203.7h0M268.2 189.8h0M209.4 177.2h0M270.3 201.3h0M295.2 181.3h0M257.7 148.2h0M289.6 143.9h0M321.6 97.6h0M292.8 201.2h0M290.9 228.6h0M270.5 188.7h0M230.8 208.1h0M302.8 120.6h0M321.8 107.8h0M307.5 211.8h0M369.1 164.5h0M336.5 191.0h0M273.8 177.0h0M338.4 187.2h0M385.8 85.1h0M361.1 198.4h0M267.6 164.0h0M231.3 187.1h0M345.4 197.8h0M342.7 149.9h0M281.5 172.5h0M284.8 182.8h0M249.5 201.4h0M335.6 172.8h0M347.1 184.2h0M317.9 158.3h0M269.1 147.7h0M320.5 136.0h0M299.1 152.0h0M306.5 157.2h0M287.9 183.8h0" stroke="#b0b0b0" stroke-opacity="0.25" stroke-width="3.4" stroke-linecap="round" fill="none"/>
<path d="M276.6 212.5h0M333.0 154.2h0M312.1 186.6h0M321.7 171.9h0M284.3 176.1h0M303.0 163.2h0M247.3 149.7h0M291.4 205.5h0M334.0 199.8h0M273.0 142.1h0M224.1 205.0h0M282.9 201.5h0M267.9 207.0h0M263.6 140.2h0M300.4 218.5h0M354.1 182.3h0M324.1 160.0h0M318.0 183.5h0M281.9 160.2h0M261.0 126.4h0M333.3 128.7h0M332.7 183.4h0M248.5 186.3h0M273.7 129.2h0M214.9 160.8h0M337.6 191.3h0M356.3 85.6h0M199.9 209.5h0M286.7 185.4h0M329.9 149.7h0M371.4 184.1h0M269.7 131.5h0M289.7 161.5h0M328.9 185.2h0M281.7 139.5h0M307.9 138.2h0M259.4 227.0h0M315.3 194.2h0M310.3 150.8h0M295.3 140.4h0M272.6 178.6h0M252.0 147.2h0M237.5 153.3h0M315.7 177.6h0M284.6 167.6h0M330.8 143.0h0M247.5 202.4h0M312.0 148.0h0M291.4 164.4h0M239.6 217.4h0M280.6 192.0h0M358.3 166.5h0M306.5 200.9h0M304.8 194.4h0" stroke="#b0b0b0" stroke-opacity="0.25" stroke-width="3.4" stroke-linecap="round" fill="none"/>
<path d="M344.7 155.8h0M278.7 143.8h0M305.3 160.7h0M267.2 197.9h0M325.8 158.1h0M298.3 163.3h0M324.9 152.1h0M293.8 161.6h0M301.7 185.5h0M238.1 212.4h0M355.4 143.3h0M327.8 189.8h0M331.9 147.0h0M236.7 198.0h0M290.4 143.6h0M243.0 158.5h0M302.7 182.9h0M231.0 136.8h0M259.9 184.8h0M261.1 180.3h0M347.0 187.1h0M266.4 186.2h0M250.8 217.6h0M348.0 182.0h0M407.5 177.8h0M430.6 145.9h0M206.5 207.4h0M330.5 188.7h0M280.0 177.3h0M375.1 170.1h0M290.7 202.0h0M240.2 152.3h0M252.5 172.6h0M295.8 188.3h0M307.6 184.4h0M309.5 204.3h0M241.6 181.6h0M401.5 167.7h0M339.9 181.9h0M297.5 168.1h0M266.8 166.6h0M228.4 216.0h0M350.2 141.3h0M302.9 114.1h0M337.8 207.6h0M282.2 202.0h0M318.8 162.2h0M369.3 182.3h0M284.8 160.3h0M318.3 152.4h0M343.6 156.9h0M330.2 129.9h0M317.6 158.3h0M230.0 165.8h0" stroke="#b0b0b0" stroke-opacity="0.25" stroke-width="3.4" stroke-linecap="round" fill="none"/>
<path d="M298.4 187.6h0M266.9 187.3h0M327.0 199.1h0M278.6 195.1h0M355.4 155.5h0M353.1 177.3h0M288.4 198.7h0M308.5 195.7h0M262.0 221.1h0M277.4 173.2h0M372.9 222.4h0M210.8 168.9h0M333.6 146.0h0M320.0 165.1h0M289.1 168.2h0M279.7 143.1h0M299.3 182.2h0M282.0 176.1h0M335.8 125.9h0M125.3 141.9h0M320.4 178.0h0M265.0 205.2h0M349.2 153.7h0M151.8 195.5h0M276.2 209.2h0M236.3 172.5h0M257.4 173.2h0M292.6 185.8h0M314.7 190.0h0M291.8 154.6h0M313.9 210.3h0M290.1 158.8h0M310.1 158.3h0M277.5 165.2h0M309.4 185.9h0M278.2 210.4h0M359.9 138.7h0M322.2 143.0h0M271.9 125.5h0M267.9 169.9h0M364.4 162.4h0M312.3 167.7h0M329.0 143.4h0M305.3 158.8h0M288.1 199.8h0M303.8 187.3h0M264.0 203.0h0M229.0 189.9h0M321.0 171.1h0M358.3 186.9h0M373.3 197.9h0M307.3 142.6h0M262.7 179.8h0M298.5 146.4h0" stroke="#b0b0b0" stroke-opacity="0.25" stroke-width="3.4" stroke-linecap="round" fill="none"/>
<path d="M353.8 159.3h0M328.7 175.8h0M337.9 115.4h0M257.1 143.1h0M262.8 187.0h0M344.4 181.6h0M355.4 184.8h0M349.3 180.4h0M335.4 168.7h0M362.8 140.4h0M278.6 190.5h0M286.6 175.2h0M278.1 221.1h0M311.1 145.6h0M290.1 219.0h0M297.9 138.3h0M315.4 194.4h0M355.5 124.2h0M281.9 137.3h0M316.6 185.2h0M302.1 207.9h0M359.6 183.5h0M313.1 131.9h0M318.2 162.0h0M259.8 196.8h0M287.9 177.8h0M278.2 142.0h0M271.6 183.3h0M362.0 165.1h0M353.7 171.7h0M325.1 188.1h0M335.5 191.3h0M312.0 157.6h0M349.8 150.5h0M321.6 130.6h0M316.0 192.4h0M302.2 194.8h0M205.7 190.9h0M303.7 156.5h0M333.4 134.9h0M329.8 138.5h0M261.0 219.7h0M249.4 156.7h0M242.7 171.8h0M315.3 160.1h0M253.7 169.1h0M321.1 159.8h0M284.9 175.3h0M354.1 164.1h0M279.3 156.3h0M312.5 149.8h0M236.3 165.6h0M339.6 148.9h0M320.3 167.1h0" stroke="#b0b0b0" stroke-opacity="0.25" stroke-width="3.4" stroke-linecap="round" fill="none"/>
<path d="M250.4 183.7h0M266.2 158.0h0M311.6 186.0h0M221.6 198.3h0M373.1 193.0h0M332.3 157.7h0M309.1 201.7h0M336.4 184.1h0M278.7 168.6h0M302.7 165.0h0M308.1 189.2h0M253.2 160.3h0M295.0 143.6h0M216.3 213.6h0M349.7 184.7h0M228.0 178.0h0M307.1 180.1h0M311.5 157.0h0M284.4 228.2h0M285.7 195.7h0M278.1 172.7h0M411.8 147.7h0M316.2 134.8h0M298.6 168.1h0M347.3 202.5h0M384.2 123.6h0M398.2 159.7h0M265.3 212.3h0M313.2 161.1h0M285.9 167.8h0M284.2 174.1h0M284.7 210.6h0M254.3 206.1h0M240.9 184.1h0M323.7 161.8h0M320.0 188.4h0M303.3 132.3h0M331.7 128.9h0M253.9 176.0h0M417.9 177.7h0M310.0 156.9h0M301.1 189.4h0M317.4 177.6h0M258.2 182.5h0M286.3 175.9h0M380.4 189.4h0M303.3 172.8h0M272.2 155.2h0M277.1 138.3h0M315.3 199.5h0M312.7 167.6h0M298.4 181.7h0M287.3 222.7h0M376.0 127.4h0" stroke="#b0b0b0" stroke-opacity="0.25" stroke-width="3.4" stroke-linecap="round" fill="none"/>
<path d="M301.7 181.1h0M312.7 132.9h0M288.1 188.0h0M338.1 164.4h0M287.0 142.5h0M304.0 186.2h0M310.8 181.1h0M349.0 188.3h0M265.3 190.3h0M359.2 178.2h0M269.7 163.0h0M290.5 184.7h0M300.4 152.6h0M367.1 177.5h0M264.0 228.7h0M300.4 155.9h0M353.4 143.3h0M339.9 183.8h0M295.6 149.9h0M291.4 223.5h0M368.6 174.6h0M338.6 157.7h0M314.5 192.8h0M316.3 184.1h0M248.8 178.3h0M319.6 174.9h0M251.0 177.7h0M310.6 144.7h0M337.1 125.6h0M294.7 171.0h0M326.9 130.0h0M293.8 169.5h0M319.1 134.2h0M366.6 211.1h0M236.4 201.6h0M320.9 168.6h0M302.8 163.1h0M288.1 161.1h0M376.8 133.4h0M259.6 189.6h0M342.8 199.6h0M317.5 164.6h0M330.3 121.1h0M310.9 146.7h0M305.0 164.0h0M259.1 159.2h0M240.9 173.4h0M354.7 258.0h0M240.9 192.6h0M274.8 211.0h0M319.2 164.7h0M194.4 191.0h0M321.5 184.8h0M375.1 152.2h0" stroke="#b0b0b0" stroke-opacity="0.25" stroke-width="3.4" stroke-linecap="round" fill="none"/>
<path d="M269.8 200.6h0M267.6 170.9h0M334.1 160.6h0M291.8 199.4h0M372.6 148.7h0M314.0 150.2h0M242.4 193.5h0M282.6 187.8h0M267.0 204.6h0M290.7 177.4h0M330.8 168.4h0M289.7 150.5h0M300.2 147.4h0M286.0 189.9h0M360.0 137.9h0M349.5 193.8h0M246.3 152.6h0M318.9 168.4h0M420.0 153.1h0M272.6 203.4h0M277.5 183.7h0M377.5 124.1h0M288.2 166.8h0M212.7 158.9h0M212.2 173.0h0M316.3 187.3h0M292.6 142.5h0M345.4 182.2h0M275.3 151.8h0M342.7 178.1h0M424.9 132.8h0M348.5 199.9h0M298.9 147.8h0M335.3 206.4h0M285.1 183.1h0M289.7 173.4h0M337.5 199.8h0M273.5 229.3h0M347.8 152.2h0M245.8 171.2h0M320.1 164.6h0M413.8 181.8h0M287.9 179.8h0M231.2 201.5h0M308.0 164.1h0M292.3 166.4h0M404.2 180.2h0M228.8 192.1h0M316.6 174.3h0M275.6 209.9h0M264.9 186.9h0M326.2 129.0h0M370.8 164.5h0M341.2 201.6h0" stroke="#b0b0b0" stroke-opacity="0.25" stroke-width="3.4" stroke-linecap="round" fill="none"/>
<path d="M321.1 153.2h0M266.0 180.0h0M300.7 184.6h0M301.3 134.6h0M333.8 218.2h0M275.9 188.9h0M284.8 145.0h0M280.6 158.2h0M253.1 205.2h0M293.8 179.9h0M291.6 161.8h0M256.8 219.0h0M380.3 136.6h0M327.2 165.5h0M276.5 170.5h0M350.5 212.4h0M237.3 182.2h0M288.9 162.4h0M362.7 171.2h0M286.6 103.8h0M215.5 186.5h0M292.8 150.4h0M302.4 147.1h0M341.8 178.0h0M325.1 185.3h0M343.9 178.9h0M369.7 153.0h0M319.9 154.0h0M332.1 182.8h0M220.9 177.6h0M320.8 200.0h0M377.4 165.0h0M245.4 192.2h0M270.6 180.1h0M266.8 164.3h0M286.7 199.6h0M351.6 170.7h0M215.4 138.0h0M286.0 198.6h0M363.4 180.6h0M336.2 209.4h0M264.1 156.9h0M260.1 207.1h0M266.8 178.1h0M265.9 187.8h0M335.2 205.0h0M300.8 184.1h0M299.7 194.9h0M369.1 164.4h0M246.1 156.1h0M338.3 168.9h0M311.9 192.1h0M306.6 186.2h0M280.4 214.2h0" stroke="#b0b0b0" stroke-opacity="0.25" stroke-width="3.4" stroke-linecap="round" fill="none"/>
<path d="M271.9 194.4h0M356.2 161.3h0M365.9 157.2h0M207.5 201.4h0M301.1 196.5h0M260.6 207.9h0M335.3 163.2h0M343.7 165.6h0M326.1 127.3h0M294.0 189.5h0M260.7 225.9h0M317.5 195.6h0M333.7 217.9h0M281.0 179.3h0M309.1 152.8h0M286.5 175.2h0M346.5 177.4h0M209.3 188.5h0M251.9 139.2h0M280.4 185.4h0M327.3 152.7h0M300.2 180.7h0M313.0 187.4h0M308.6 181.3h0M315.8 207.4h0M232.4 164.5h0M261.0 169.8h0M298.9 154.5h0M307.7 146.6h0M321.6 115.8h0M274.8 195.2h0M287.1 170.1h0M306.0 152.1h0M236.5 185.3h0M284.5 136.3h0M287.0 205.7h0M266.6 169.3h0M353.0 214.2h0M316.2 156.6h0M328.8 162.7h0M324.4 185.8h0M299.8 193.3h0M292.2 166.1h0M252.8 194.2h0M301.0 221.3h0M193.2 211.5h0M289.0 172.7h0M345.2 139.9h0M358.3 158.8h0M270.6 213.4h0M258.7 218.5h0M300.3 165.3h0M267.5 193.7h0M297.9 185.4h0" stroke="#b0b0b0" stroke-opacity="0.25" stroke-width="3.4" stroke-linecap="round" fill="none"/>
<path d="M261.6 166.5h0M317.5 154.2h0M273.4 171.7h0M318.4 188.7h0M260.9 173.0h0M287.3 187.6h0M302.3 199.0h0M270.9 165.3h0M239.0 121.1h0M348.5 191.3h0M349.8 153.9h0M362.0 175.9h0M372.1 158.4h0M305.3 207.0h0M234.0 210.1h0M266.9 166.7h0M355.5 167.5h0M307.1 117.5h0M322.9 176.8h0M307.8 197.3h0M327.3 199.6h0M272.6 143.8h0M202.1 212.6h0M235.7 153.2h0M279.6 183.0h0M271.7 167.4h0M359.7 191.9h0M269.7 171.8h0M316.3 174.0h0M307.0 171.2h0M329.6 172.3h0M319.4 153.0h0M279.2 164.4h0M274.6 143.8h0M307.6 173.3h0M291.2 176.2h0M335.5 158.1h0M281.3 158.7h0M306.5 143.9h0M250.4 187.6h0M276.3 187.4h0M271.8 195.3h0M302.2 165.0h0M318.9 155.4h0M262.8 187.8h0M334.7 214.4h0M373.9 155.5h0M326.5 98.0h0M228.5 189.9h0M249.4 245.6h0M197.8 179.8h0M341.6 158.4h0M259.1 155.8h0M271.2 180.1h0" stroke="#b0b0b0" stroke-opacity="0.25" stroke-width="3.4" stroke-linecap="round" fill="none"/>
<path d="M326.0 212.1h0M309.4 169.2h0M301.4 140.5h0M356.4 188.7h0M292.7 179.0h0M354.8 189.2h0M364.2 240.9h0M274.4 207.5h0M245.4 163.3h0M258.0 207.9h0M330.7 137.1h0M252.6 133.2h0M233.8 171.1h0M291.8 200.1h0M300.8 149.0h0M347.0 143.2h0M344.8 198.0h0M304.0 213.8h0M261.1 211.1h0M256.6 175.9h0M325.0 161.3h0M364.0 172.7h0M377.1 170.7h0M319.7 197.5h0M338.3 171.6h0M321.6 184.6h0M286.1 165.5h0M305.4 160.3h0M240.2 135.1h0M354.6 181.2h0M313.0 206.2h0M263.4 217.6h0M301.7 154.6h0M228.2 197.3h0M316.6 182.4h0M342.4 166.9h0M239.2 237.2h0M268.8 140.9h0M297.9 186.1h0M239.2 139.0h0M286.6 143.2h0M297.4 163.9h0M285.6 238.2h0M283.0 229.0h0M242.7 231.2h0M299.3 159.7h0M297.8 183.0h0M355.1 115.5h0M342.0 162.1h0M319.2 175.6h0M282.0 153.8h0M267.9 202.8h0M336.2 115.7h0M298.1 160.4h0" stroke="#b0b0b0" stroke-opacity="0.25" stroke-width="3.4" stroke-linecap="round" fill="none"/>
<path d="M343.0 118.0h0M403.1 117.7h0M266.2 158.8h0M235.5 177.5h0M321.2 169.0h0M342.6 198.4h0M351.3 185.7h0M345.8 134.2h0M302.6 110.8h0M300.7 198.3h0M343.9 183.9h0M329.4 167.1h0M251.6 183.0h0M300.8 137.1h0M257.1 200.0h0M266.7 187.8h0M341.8 138.8h0M332.5 185.1h0M309.7 124.7h0M315.8 188.5h0M350.7 183.4h0M295.2 207.8h0M356.9 216.5h0M317.7 181.4h0M314.7 160.1h0M310.9 176.5h0M284.2 194.8h0M271.0 170.1h0M323.4 180.7h0M286.0 149.1h0M255.0 187.0h0M252.1 180.9h0M335.3 143.8h0M341.0 140.5h0M252.4 216.8h0M320.2 150.2h0M375.5 138.5h0M322.9 179.4h0M375.8 131.3h0M350.9 189.3h0M397.4 185.4h0M302.9 141.5h0M384.0 165.9h0M312.1 150.3h0M275.8 199.3h0M284.8 185.3h0M328.0 184.3h0M312.4 184.5h0M295.0 206.7h0M309.9 123.6h0M218.7 145.0h0M317.9 193.6h0M265.5 217.0h0M439.5 150.8h0" stroke="#b0b0b0" stroke-opacity="0.25" stroke-width="3.4" stroke-linecap="round" fill="none"/>
<path d="M182.0 170.3h0M272.0 214.2h0M294.0 156.4h0M352.5 175.0h0M305.9 119.9h0M314.7 121.8h0M347.7 156.5h0M334.9 223.7h0M311.0 178.1h0M297.1 202.8h0M251.9 212.1h0M311.9 216.8h0M336.8 173.5h0M378.5 138.1h0M245.2 205.2h0M243.6 179.0h0M262.4 179.9h0M297.5 181.0h0M234.4 177.3h0M314.8 148.0h0M327.1 176.9h0M331.2 173.6h0M295.1 168.9h0M372.8 202.8h0M342.0 188.1h0M250.1 178.8h0M272.5 169.1h0M306.4 119.1h0M328.4 182.0h0M290.3 189.0h0M325.4 125.8h0M295.0 167.6h0M247.5 211.4h0M308.3 163.6h0M298.6 137.3h0M280.4 217.8h0M280.8 174.1h0M281.8 117.8h0M254.3 207.3h0M318.0 207.6h0M291.9 187.2h0M335.3 152.2h0M283.2 189.6h0M306.6 171.6h0M301.9 133.4h0M350.3 182.6h0M346.6 192.6h0M219.3 199.0h0M292.8 179.4h0M231.1 191.0h0M305.9 167.9h0M247.6 221.9h0M300.1 193.9h0M255.6 186.1h0" stroke="#b0b0b0" stroke-opacity="0.25" stroke-width="3.4" stroke-linecap="round" fill="none"/>
<path d="M292.5 211.0h0M351.5 106.2h0M268.6 199.3h0M255.1 195.4h0M318.5 158.0h0M281.5 149.3h0M340.6 185.3h0M340.1 186.5h0M293.4 115.8h0M261.7 188.5h0M291.6 157.8h0M352.0 157.6h0M295.3 163.2h0M249.2 212.8h0M335.0 172.4h0M183.2 202.5h0M290.4 213.8h0M317.7 172.0h0M293.6 127.9h0M347.8 155.8h0M276.4 164.8h0M238.1 203.7h0M258.4 210.9h0M305.4 226.2h0M364.8 172.0h0M337.6 147.5h0M338.8 167.9h0M302.4 176.7h0M273.7 182.0h0M339.5 98.9h0M328.7 192.9h0M303.1 173.6h0M324.9 187.9h0M323.5 144.0h0M295.1 210.9h0M338.9 178.0h0M262.7 201.9h0M226.9 132.4h0M237.3 223.8h0M289.9 160.9h0M339.9 126.8h0M354.0 125.0h0M309.1 217.2h0M347.3 209.8h0M368.7 193.4h0M295.6 134.6h0M331.8 158.1h0M287.9 172.8h0M344.5 172.2h0M304.8 190.5h0M337.6 120.6h0M257.1 209.1h0M336.3 158.0h0M280.7 102.3h0" stroke="#b0b0b0" stroke-opacity="0.25" stroke-width="3.4" stroke-linecap="round" fill="none"/>
<path d="M256.9 150.9h0M359.8 154.9h0M291.1 183.3h0M319.0 137.1h0M292.0 190.3h0M252.0 186.7h0M360.3 176.3h0M277.5 223.9h0M319.2 135.9h0M301.5 78.2h0M271.7 164.1h0M305.7 179.3h0M189.4 195.3h0M330.4 171.4h0M289.3 162.5h0M296.0 214.8h0M299.6 148.5h0M311.0 164.0h0M306.3 203.1h0M363.1 174.2h0M275.4 196.7h0M272.3 133.6h0M299.7 187.1h0M259.7 170.0h0M347.0 163.1h0M300.2 118.4h0M215.9 186.4h0M290.0 191.1h0M316.9 193.2h0M355.4 179.9h0M279.6 167.8h0M302.0 189.2h0M258.9 202.1h0M347.8 164.8h0M300.9 190.3h0M341.2 166.9h0M324.2 98.8h0M332.9 164.0h0M269.6 188.6h0M290.6 177.7h0M382.7 148.2h0M310.5 141.6h0M335.6 143.1h0M325.4 162.1h0M271.2 186.1h0M254.5 160.1h0M343.4 162.4h0M290.1 174.7h0M268.8 163.6h0M303.6 173.8h0M269.7 181.3h0M340.5 211.5h0M356.0 188.2h0M296.1 195.4h0" stroke="#b0b0b0" stroke-opacity="0.25" stroke-width="3.4" stroke-linecap="round" fill="none"/>
<path d="M304.0 201.8h0M290.3 202.0h0M389.1 152.2h0M306.5 188.2h0M341.5 100.3h0M315.6 187.7h0M269.7 124.8h0M382.3 166.9h0M311.7 174.2h0M230.6 159.8h0M322.6 171.2h0M365.9 201.5h0M316.2 134.3h0M313.7 148.9h0M307.7 182.5h0M370.7 215.2h0M229.7 201.9h0M303.6 169.7h0M291.5 183.4h0M231.3 214.7h0M288.0 167.9h0M413.5 167.2h0M307.9 186.8h0M286.0 196.4h0M305.9 156.5h0M311.4 173.5h0M291.9 152.6h0M343.8 191.4h0M220.8 186.3h0M290.2 136.9h0M310.4 193.7h0M321.9 151.7h0M320.8 205.7h0M293.3 200.0h0M288.4 168.6h0M361.1 139.1h0M236.5 165.0h0M243.2 204.7h0M320.6 180.9h0M305.0 175.6h0M361.8 177.5h0M321.3 163.9h0M311.2 136.8h0M323.6 178.9h0M316.7 142.2h0M194.6 197.3h0M303.8 203.8h0M285.2 178.4h0M305.6 181.2h0M245.6 134.1h0M381.3 149.2h0M309.6 191.6h0M340.4 162.3h0M336.3 152.3h0" stroke="#b0b0b0" stroke-opacity="0.25" stroke-width="3.4" stroke-linecap="round" fill="none"/>
<path d="M326.1 223.5h0M298.1 174.6h0M275.5 108.6h0M372.6 126.6h0M246.0 179.5h0M340.4 192.2h0M268.3 186.7h0M282.0 182.7h0M357.9 151.4h0M298.5 176.5h0M325.8 136.8h0M295.0 148.9h0M244.1 184.6h0M262.3 182.1h0M387.5 178.2h0M288.2 198.8h0M326.5 183.9h0M296.3 216.7h0M274.6 182.9h0M241.8 151.4h0M318.7 182.4h0M250.6 223.1h0M332.9 122.6h0M260.6 187.4h0M264.1 216.8h0M231.0 138.6h0M238.8 176.5h0M246.2 170.7h0M240.4 209.4h0M329.6 185.2h0M280.7 165.0h0M313.7 207.6h0M246.1 146.1h0M271.1 130.6h0M323.5 210.8h0M257.5 183.6h0M328.8 201.3h0M340.7 209.5h0M297.6 160.2h0M321.6 102.4h0M266.9 196.0h0M333.4 182.7h0M232.9 234.6h0M270.3 194.9h0M334.7 156.3h0M150.2 220.4h0M335.0 172.9h0M333.0 186.4h0M275.5 182.5h0M352.7 130.7h0M271.6 194.8h0M313.0 129.8h0M333.7 192.8h0M356.5 181.1h0" stroke="#b0b0b0" stroke-opacity="0.25" stroke-width="3.4" stroke-linecap="round" fill="none"/>
<path d="M288.5 227.2h0M321.1 185.0h0M235.1 179.1h0M341.9 144.4h0M310.8 153.7h0M260.3 227.5h0M296.2 205.7h0M267.9 197.9h0M313.2 213.7h0M369.4 165.2h0M303.0 205.0h0M247.6 228.4h0M279.4 135.8h0M316.3 174.6h0M305.4 111.3h0M309.7 167.5h0M355.3 169.3h0M314.2 178.3h0M233.5 164.9h0M324.6 204.0h0M210.7 197.4h0M339.5 135.2h0M248.8 232.8h0M314.6 169.9h0M326.3 120.4h0M288.2 215.8h0M340.5 146.6h0M278.9 146.8h0M300.7 152.2h0M269.1 238.1h0M398.9 173.2h0M316.3 169.3h0M245.7 156.2h0M253.4 229.2h0M283.0 152.5h0M305.5 208.9h0M262.1 149.4h0M230.1 186.0h0M297.4 149.8h0M273.8 185.6h0M276.8 164.6h0M309.8 179.7h0M312.6 170.4h0M216.5 185.9h0M319.0 153.5h0M299.4 184.0h0M260.6 189.9h0M324.5 110.6h0M252.8 202.2h0M333.1 184.5h0M286.8 185.1h0M317.0 166.9h0M311.6 134.5h0M313.1 152.5h0" stroke="#b0b0b0" stroke-opacity="0.25" stroke-width="3.4" stroke-linecap="round" fill="none"/>
<path d="M270.7 238.3h0M361.0 203.3h0M247.3 181.0h0M286.7 158.8h0M288.8 156.3h0M273.2 182.4h0M258.4 209.3h0M335.3 185.8h0M325.2 166.7h0M318.6 138.4h0M303.4 192.7h0M281.6 149.2h0M286.9 160.0h0M354.8 165.4h0M317.9 146.7h0M344.1 229.2h0M315.3 177.0h0M358.5 162.8h0M350.7 174.1h0M195.5 184.9h0M306.5 218.3h0M335.7 180.1h0M298.5 244.7h0M268.4 225.2h0M310.7 192.7h0M203.4 175.4h0M241.7 128.1h0M358.2 165.0h0M249.8 214.2h0M253.6 167.3h0M236.8 188.1h0M480.1 163.3h0M361.7 150.0h0M349.5 200.6h0M283.8 177.7h0M348.1 152.8h0M254.9 185.4h0M334.0 188.4h0M237.5 191.6h0M293.0 167.7h0M319.5 210.5h0M343.8 172.5h0M335.8 189.1h0M334.8 146.2h0M307.5 138.5h0M319.8 123.6h0M221.8 207.1h0M292.9 204.8h0M275.0 137.9h0M219.8 234.4h0M340.5 180.9h0M313.1 184.8h0M328.8 110.6h0M406.1 141.8h0" stroke="#b0b0b0" stroke-opacity="0.25" stroke-width="3.4" stroke-linecap="round" fill="none"/>
<path d="M334.1 174.9h0M343.2 134.3h0M286.2 188.0h0M340.5 154.2h0M330.0 168.2h0M283.7 207.4h0M235.3 193.6h0M282.2 175.7h0M301.1 151.9h0M287.1 175.2h0M206.2 215.8h0M322.1 141.3h0M341.0 179.1h0M317.2 168.4h0M372.5 128.0h0M323.8 192.0h0M381.7 146.5h0M339.3 160.0h0M274.9 212.5h0M270.8 149.5h0M291.2 186.9h0M275.5 212.1h0M283.7 160.6h0M235.0 184.8h0M316.6 161.4h0M233.5 202.6h0M350.1 210.0h0M299.7 159.0h0M374.4 162.8h0M257.2 155.5h0M335.9 199.1h0M358.6 178.6h0M385.8 163.8h0M366.4 154.0h0M246.6 206.3h0M326.2 185.5h0M277.4 135.8h0M358.0 182.2h0M291.9 199.9h0M248.7 195.1h0M307.9 136.0h0M329.5 121.2h0M288.9 162.9h0M292.8 157.2h0M262.6 195.4h0M294.9 163.8h0M291.5 150.3h0M250.3 184.5h0M272.7 225.7h0M321.8 205.8h0M267.3 183.8h0M339.7 161.9h0M202.9 191.4h0M275.3 179.4h0" stroke="#b0b0b0" stroke-opacity="0.25" stroke-width="3.4" stroke-linecap="round" fill="none"/>
<path d="M224.8 192.0h0M325.6 144.9h0M282.0 198.6h0M343.0 193.8h0M276.0 186.4h0M298.4 165.1h0M287.0 186.9h0M321.5 123.7h0M284.5 233.6h0M346.3 169.9h0M267.9 215.4h0M301.6 163.3h0M282.8 184.8h0M303.2 208.3h0M298.4 161.6h0M349.1 175.7h0M284.7 184.6h0M244.7 202.3h0M282.0 188.5h0M246.7 148.1h0M332.4 197.0h0M320.7 148.3h0M320.8 171.8h0M344.8 173.0h0M285.9 146.2h0M301.4 184.1h0M224.4 196.1h0M310.4 152.4h0M258.1 187.9h0M307.6 191.8h0M311.9 190.3h0M355.6 125.7h0M291.0 142.8h0M308.6 189.6h0M313.0 205.7h0M209.2 194.4h0M346.3 163.3h0M253.4 183.6h0M349.6 170.8h0M308.1 137.4h0M204.9 209.3h0M350.3 149.0h0M349.4 194.2h0M319.5 141.1h0M260.1 189.0h0M323.5 187.1h0M333.9 198.4h0M269.4 202.3h0M300.5 190.5h0M274.8 176.0h0M348.8 151.0h0M349.0 185.7h0M348.6 194.7h0M292.1 184.3h0" stroke="#b0b0b0" stroke-opacity="0.25" stroke-width="3.4" stroke-linecap="round" fill="none"/>
<path d="M292.7 116.6h0M301.8 207.0h0M394.4 120.7h0M293.9 198.1h0M384.7 182.5h0M283.3 165.6h0M287.5 151.4h0M269.4 152.7h0M305.0 188.5h0M339.5 179.6h0M287.6 180.1h0M270.6 183.9h0M285.5 151.7h0M353.5 155.0h0M376.1 149.7h0M280.4 188.4h0M302.6 194.2h0M348.8 197.7h0M310.9 105.3h0M236.7 200.9h0M338.2 165.7h0M357.5 197.3h0M321.7 188.3h0M333.1 158.8h0M351.7 114.6h0M282.8 153.8h0M294.8 173.5h0M390.1 154.4h0M330.7 186.3h0M370.0 174.4h0M295.3 179.2h0M311.9 180.4h0M261.1 164.9h0M298.2 171.8h0M292.7 204.7h0M312.1 184.7h0M346.0 157.2h0M343.0 180.4h0M312.4 119.0h0M315.3 162.0h0M269.5 158.7h0M371.8 149.3h0M262.6 152.6h0M314.2 157.6h0M197.5 160.1h0M285.7 144.8h0M221.6 219.1h0M231.6 177.6h0M272.3 192.6h0M355.4 124.7h0M273.4 189.5h0M307.8 195.3h0M254.5 144.3h0M285.2 174.9h0" stroke="#b0b0b0" stroke-opacity="0.25" stroke-width="3.4" stroke-linecap="round" fill="none"/>
<path d="M175.4 215.7h0M277.8 150.3h0M413.8 134.4h0M298.3 215.8h0M280.1 149.0h0M303.7 166.3h0M313.1 167.0h0M383.2 158.4h0M320.1 160.7h0M308.3 154.6h0M368.7 150.7h0M272.2 178.1h0M331.1 158.0h0M300.9 155.3h0M373.0 153.3h0M362.8 106.2h0M400.0 135.0h0M386.9 162.2h0M339.4 180.4h0M246.4 211.9h0M271.4 195.9h0M319.8 203.8h0M317.5 192.6h0M336.3 181.2h0M315.9 116.7h0M247.9 208.7h0M210.0 192.1h0M392.0 151.3h0M296.5 183.2h0M283.2 173.0h0M320.0 181.6h0M279.4 188.2h0M283.5 187.7h0M271.4 190.4h0M302.6 193.1h0M289.6 153.5h0M291.7 167.7h0M302.0 181.8h0M260.8 176.5h0M303.9 147.3h0M355.2 97.4h0M316.3 174.3h0M358.7 202.8h0M217.1 227.2h0M286.5 195.3h0M295.3 152.3h0M396.7 169.3h0M398.4 152.6h0M277.0 177.1h0M259.9 188.8h0M347.1 179.1h0M273.6 143.3h0M272.0 142.4h0M312.2 190.3h0" stroke="#b0b0b0" stroke-opacity="0.25" stroke-width="3.4" stroke-linecap="round" fill="none"/>
<path d="M299.1 176.9h0M294.3 204.3h0M367.9 178.8h0M320.1 201.5h0M287.4 168.4h0M333.7 202.8h0M285.0 200.7h0M312.6 177.6h0M285.3 157.2h0M308.3 191.2h0M305.2 143.7h0M409.0 137.5h0M271.9 193.5h0M285.9 195.9h0M380.6 126.1h0M332.4 141.4h0M276.5 216.4h0M262.1 163.6h0M260.4 202.3h0M310.9 199.3h0M267.5 193.6h0M379.9 168.1h0M337.4 168.3h0M328.0 188.9h0M247.1 165.6h0M296.7 199.2h0M373.6 153.6h0M342.2 193.5h0M296.6 181.0h0M290.5 160.2h0M259.7 161.8h0M335.0 172.5h0M231.5 197.9h0M280.9 191.9h0M287.5 195.3h0M419.7 155.8h0M277.0 193.4h0M313.0 161.2h0M307.3 176.9h0M342.3 175.7h0M306.6 147.6h0M302.2 162.3h0M335.3 178.2h0M363.7 126.5h0M319.6 201.9h0M225.3 209.2h0M232.9 179.4h0M315.6 183.4h0M303.0 168.9h0M303.7 122.5h0M281.8 134.6h0M331.7 210.6h0M295.8 125.3h0M328.3 225.2h0" stroke="#b0b0b0" stroke-opacity="0.25" stroke-width="3.4" stroke-linecap="round" fill="none"/>
<path d="M291.9 198.7h0M349.0 128.9h0M358.4 182.5h0M289.4 123.0h0M305.2 177.5h0M266.0 189.1h0M310.4 106.2h0M316.1 173.6h0M227.7 107.5h0M284.1 181.5h0M319.6 178.3h0M297.0 214.4h0M255.6 170.8h0M367.4 185.6h0M308.1 178.9h0M321.7 146.3h0M288.6 154.7h0M222.3 191.3h0M296.8 184.0h0M345.1 128.1h0M265.5 167.3h0M258.9 182.0h0M265.0 185.2h0M331.0 157.9h0M245.4 120.8h0M298.8 132.2h0M264.3 209.7h0M213.3 168.8h0M309.6 187.9h0M292.2 189.8h0M290.4 178.0h0M333.1 159.1h0M271.7 172.9h0M255.7 217.9h0M294.8 170.1h0M281.4 143.1h0M301.9 169.7h0M281.0 177.4h0M274.4 195.3h0M281.7 200.5h0M240.9 187.0h0M197.6 166.2h0M316.9 196.1h0M256.6 127.4h0M308.8 202.2h0M298.5 127.7h0M366.4 170.8h0M359.8 159.7h0M308.7 142.2h0M195.1 129.6h0M226.8 197.9h0M342.2 183.4h0M306.6 193.2h0M226.7 138.3h0" stroke="#b0b0b0" stroke-opacity="0.25" stroke-width="3.4" stroke-linecap="round" fill="none"/>
<path d="M272.0 176.5h0M307.2 221.0h0M398.9 188.8h0M245.5 189.0h0M267.8 182.1h0M311.2 164.5h0M257.9 127.7h0M346.1 177.6h0M287.1 176.4h0M309.7 156.6h0M411.2 154.5h0M228.6 175.3h0M276.8 180.8h0M252.9 206.5h0M312.2 168.6h0M265.1 147.5h0M271.3 137.0h0M331.9 149.0h0M310.0 140.2h0M368.4 204.0h0M274.4 179.4h0M327.5 158.3h0M264.0 183.0h0M386.7 206.3h0M263.1 186.4h0M302.6 208.1h0M300.9 222.5h0M274.9 190.7h0M366.4 182.4h0M292.1 206.2h0M282.2 164.1h0M288.0 152.5h0M293.2 144.9h0M309.7 174.6h0M281.2 195.5h0M345.6 133.6h0M291.3 187.4h0M270.0 189.0h0M234.2 202.2h0M225.1 190.6h0M290.7 172.2h0M262.0 176.0h0M284.4 168.8h0M253.7 189.0h0M234.5 110.5h0M283.5 152.0h0M366.9 156.1h0M349.9 206.8h0M266.1 161.6h0M315.0 131.5h0M347.1 187.3h0M320.5 201.8h0M315.6 203.0h0M185.5 236.0h0" stroke="#b0b0b0" stroke-opacity="0.25" stroke-width="3.4" stroke-linecap="round" fill="none"/>
<path d="M218.4 164.0h0M367.8 172.6h0M171.6 163.2h0M358.7 167.2h0M288.8 180.2h0M313.8 187.9h0M336.3 154.0h0M305.7 197.5h0M331.6 94.9h0M251.6 192.9h0M339.5 191.5h0M166.8 209.6h0M234.8 136.8h0M341.6 177.0h0M328.1 193.4h0M226.5 174.2h0M254.0 180.8h0M314.4 185.8h0M353.8 155.5h0M288.1 137.2h0M309.0 149.6h0M208.8 230.3h0M359.5 143.0h0M293.3 158.3h0M318.5 173.5h0M295.3 176.7h0M319.8 144.9h0M238.6 191.1h0M308.3 155.0h0M232.1 233.7h0M354.9 183.3h0M304.0 195.5h0M361.0 140.9h0M278.9 217.3h0M255.0 217.1h0M248.3 168.2h0M341.1 112.6h0M284.3 151.9h0M287.8 133.1h0M320.9 132.4h0M257.3 198.4h0M262.4 163.0h0M281.7 197.8h0M286.2 154.0h0M312.9 172.7h0M264.3 190.5h0M296.9 167.0h0M268.7 200.6h0M339.5 132.1h0M344.9 167.0h0M307.0 126.0h0M338.5 210.0h0M173.4 202.9h0M356.8 173.6h0" stroke="#b0b0b0" stroke-opacity="0.25" stroke-width="3.4" stroke-linecap="round" fill="none"/>
<path d="M282.2 168.9h0M366.9 142.6h0M289.1 173.9h0M337.8 144.5h0M313.8 160.3h0M356.9 177.1h0M303.9 153.8h0M240.6 224.1h0M189.0 217.0h0M310.4 161.5h0M235.8 192.5h0M305.1 162.1h0M294.9 180.2h0M350.1 169.5h0M217.2 209.0h0M295.5 169.0h0M321.6 204.6h0M286.6 160.7h0M211.3 208.3h0M295.2 178.6h0M352.2 147.8h0M365.0 116.5h0M293.1 185.8h0M238.9 184.3h0M322.7 173.3h0M296.7 226.7h0M276.0 169.8h0M315.3 160.0h0M300.9 220.4h0M297.4 156.7h0M246.0 191.6h0M410.3 138.2h0M381.8 100.5h0M275.1 193.6h0M383.1 148.2h0M272.2 164.6h0M322.1 105.5h0M319.2 160.7h0M272.7 154.7h0M277.6 176.7h0M270.5 175.8h0M319.4 177.8h0M258.0 184.6h0M301.1 159.2h0M299.3 186.9h0M273.9 222.2h0M319.5 182.4h0M337.1 172.9h0M319.8 184.0h0M258.6 180.1h0M296.7 224.9h0M302.7 157.7h0M294.3 153.7h0M296.8 152.9h0" stroke="#b0b0b0" stroke-opacity="0.25" stroke-width="3.4" stroke-linecap="round" fill="none"/>
<path d="M238.1 141.5h0M269.1 186.9h0M372.0 125.8h0M313.2 155.5h0M298.2 198.1h0M287.8 189.1h0M277.6 171.1h0M304.0 103.0h0M253.5 181.7h0M312.2 153.5h0M333.4 125.2h0M312.3 122.2h0M245.9 186.8h0M317.5 190.1h0M255.5 172.3h0M366.0 149.4h0M346.2 192.4h0M317.2 180.6h0M256.9 169.9h0M297.8 116.4h0M307.9 151.9h0M321.6 157.6h0M328.8 180.0h0M294.7 156.6h0M364.7 188.5h0M353.4 180.9h0M361.5 165.6h0M344.8 141.2h0M248.0 179.6h0M271.2 189.3h0M375.6 121.9h0M334.6 168.7h0M357.1 212.5h0M284.4 194.7h0M422.2 198.5h0M309.3 196.8h0M267.9 162.7h0M248.4 182.0h0M266.7 195.2h0M338.5 177.7h0M282.1 204.2h0M303.9 166.8h0M344.4 133.8h0M280.6 191.2h0M304.6 158.3h0M289.3 167.3h0M322.8 169.0h0M226.0 143.2h0M276.0 211.4h0M300.7 160.1h0M321.7 215.0h0M280.7 162.9h0M280.1 175.3h0M262.3 232.6h0" stroke="#b0b0b0" stroke-opacity="0.25" stroke-width="3.4" stroke-linecap="round" fill="none"/>
<path d="M353.1 169.3h0M341.9 228.7h0M329.8 152.0h0M239.1 173.1h0M234.5 225.2h0M322.0 144.5h0M307.9 196.9h0M288.5 201.0h0M225.8 198.6h0M286.8 193.3h0M349.5 152.2h0M344.6 166.4h0M273.3 184.1h0M397.0 205.4h0M352.5 143.8h0M279.8 160.0h0M338.0 236.9h0M344.3 176.2h0M379.8 146.1h0M294.1 181.2h0M341.2 187.0h0M242.7 203.5h0M360.7 162.3h0M342.9 130.8h0M298.8 121.4h0M284.0 195.7h0M302.2 174.7h0M228.8 100.9h0M349.8 160.8h0M333.7 182.5h0M314.1 187.0h0M332.0 156.5h0M366.4 141.3h0M330.9 170.4h0M278.0 153.1h0M302.4 155.5h0M241.7 199.8h0M411.6 145.8h0M325.1 137.0h0M368.2 137.8h0M299.5 161.6h0M300.0 153.5h0M296.1 170.6h0M329.5 161.5h0M317.1 170.6h0M239.6 193.6h0M234.5 189.8h0M226.0 186.1h0M323.2 128.0h0M300.8 179.8h0M361.3 136.9h0M379.5 119.1h0M337.6 193.7h0M243.5 214.5h0" stroke="#b0b0b0" stroke-opacity="0.25" stroke-width="3.4" stroke-linecap="round" fill="none"/>
<path d="M291.5 156.4h0M321.3 217.3h0M316.4 212.2h0M321.3 183.2h0M247.9 199.1h0M358.1 193.1h0M281.1 160.5h0M347.0 213.8h0M402.9 217.2h0M210.6 169.3h0M310.2 150.1h0M324.5 190.9h0M257.1 230.4h0M271.2 151.3h0M250.4 191.2h0M287.9 200.5h0M339.8 147.1h0M289.7 210.6h0M243.1 187.6h0M255.6 157.9h0M362.6 217.7h0M278.7 140.8h0M282.8 169.7h0M293.2 198.8h0M301.4 149.8h0M269.1 186.2h0M288.4 137.1h0M289.1 132.6h0M321.9 208.5h0M340.9 179.5h0M280.9 155.9h0M364.2 145.7h0M253.4 176.2h0M298.9 129.4h0M264.2 135.6h0M382.9 202.9h0M355.9 184.1h0M312.7 193.6h0M249.7 200.0h0M289.8 111.0h0M367.4 177.1h0M303.5 114.4h0M242.5 266.3h0M268.1 214.5h0M327.9 184.9h0M193.4 207.9h0M308.9 169.4h0M333.0 196.5h0M266.5 185.8h0M222.4 184.5h0M291.0 157.0h0M230.2 211.0h0M301.0 175.5h0M262.7 151.5h0" stroke="#b0b0b0" stroke-opacity="0.25" stroke-width="3.4" stroke-linecap="round" fill="none"/>
<path d="M332.6 188.8h0M272.0 221.5h0M282.6 180.1h0M284.3 208.2h0M326.0 204.4h0M323.0 194.2h0M290.9 205.2h0M329.3 200.4h0M348.3 182.8h0M258.5 192.2h0M313.3 139.2h0M373.7 175.0h0M343.3 119.0h0M244.4 176.8h0M288.6 121.3h0M341.8 179.2h0M307.0 187.4h0M228.8 183.6h0M333.6 177.0h0M352.3 166.0h0M277.3 231.1h0M300.3 164.0h0M351.5 186.7h0M309.7 169.0h0M346.3 154.6h0M325.5 193.9h0M249.2 202.9h0M338.7 134.0h0M284.9 185.5h0M277.0 184.0h0M324.1 170.7h0M291.6 188.4h0M348.5 163.8h0M338.3 141.0h0M236.5 157.1h0M296.3 166.6h0M328.2 160.7h0M299.6 205.8h0M207.7 205.3h0M403.0 121.4h0M361.0 152.9h0M342.5 203.4h0M321.4 142.1h0M244.0 204.2h0M337.2 119.3h0M336.8 140.2h0M251.4 185.8h0M310.2 164.6h0M286.3 163.9h0M325.7 196.3h0M250.9 216.8h0M338.6 175.7h0M218.6 191.6h0M255.6 187.5h0" stroke="#b0b0b0" stroke-opacity="0.25" stroke-width="3.4" stroke-linecap="round" fill="none"/>
<path d="M310.4 205.5h0M276.5 174.5h0M229.7 218.4h0M212.1 203.0h0M249.9 185.9h0M259.9 215.7h0M337.4 158.6h0M281.8 177.5h0M321.8 175.4h0M315.6 153.8h0M333.7 137.8h0M180.1 153.8h0M331.7 140.9h0M289.2 163.9h0M234.7 108.7h0M293.5 157.4h0M306.7 203.3h0M274.3 188.8h0M324.2 188.9h0M310.3 146.1h0M332.7 172.7h0M332.4 130.9h0M322.3 152.0h0M340.2 180.7h0M282.0 204.7h0M362.5 154.2h0M320.8 231.8h0M288.2 95.9h0M257.4 169.6h0M305.3 189.6h0M308.0 109.0h0M306.2 142.0h0M259.4 165.0h0M264.2 142.2h0M266.2 152.5h0M322.3 198.0h0M289.5 169.0h0M325.6 158.1h0M257.2 185.9h0M315.9 132.6h0M325.6 171.4h0M276.1 203.6h0M333.6 161.0h0M295.2 185.0h0M316.9 197.6h0M281.5 200.6h0M347.5 237.7h0M341.2 216.0h0M306.9 250.0h0M266.3 193.5h0M309.1 177.6h0M304.5 133.7h0M269.2 195.4h0M341.9 188.7h0" stroke="#b0b0b0" stroke-opacity="0.25" stroke-width="3.4" stroke-linecap="round" fill="none"/>
<path d="M301.4 171.8h0M248.3 163.1h0M290.2 148.9h0M269.2 197.0h0M331.5 178.9h0M346.9 146.2h0M262.3 143.6h0M316.1 146.8h0M347.2 157.9h0M367.3 177.1h0M401.9 176.4h0M260.6 190.4h0M255.6 208.9h0M284.8 190.6h0M295.7 157.9h0M312.1 146.8h0M308.0 94.2h0M387.2 153.7h0M321.5 178.5h0M216.2 202.7h0M237.1 191.9h0M382.9 137.4h0M219.8 197.9h0M289.1 200.9h0M258.6 173.0h0M283.6 206.2h0M295.3 205.9h0M305.8 148.9h0M295.8 220.5h0M343.0 101.2h0M268.5 181.6h0M242.9 173.4h0M255.3 153.8h0M335.1 160.4h0M341.0 161.6h0M303.4 180.3h0M231.6 147.0h0M229.1 203.7h0M254.8 151.8h0M320.8 171.8h0M297.5 193.0h0M328.1 151.2h0M348.8 156.3h0M313.4 201.6h0M333.6 148.1h0M278.2 110.0h0M298.5 203.6h0M321.7 134.8h0M359.8 180.0h0M252.9 187.0h0M225.0 192.4h0M226.4 241.5h0M321.9 133.1h0M218.4 191.7h0" stroke="#b0b0b0" stroke-opacity="0.25" stroke-width="3.4" stroke-linecap="round" fill="none"/>
<path d="M340.2 133.2h0M316.1 124.4h0M278.7 174.1h0M230.3 162.3h0M257.2 169.1h0M305.7 155.2h0M337.9 193.8h0M230.7 128.2h0M264.2 165.6h0M314.5 166.3h0M247.3 202.4h0M256.6 233.4h0M311.0 186.1h0M241.4 164.3h0M343.7 185.1h0M175.8 142.7h0M265.9 188.6h0M341.4 148.6h0M327.9 156.6h0M260.5 182.6h0M337.4 134.0h0M297.2 191.4h0M289.8 202.3h0M326.6 148.0h0M301.6 163.6h0M358.8 172.0h0M312.6 158.4h0M300.4 177.5h0M257.9 216.9h0M326.6 179.1h0M348.2 145.9h0M363.2 170.7h0M379.0 151.6h0M312.1 134.4h0M326.4 152.8h0M325.3 189.3h0M269.3 199.5h0M307.5 205.2h0M315.2 207.5h0M233.3 159.1h0M366.7 174.8h0M232.8 201.7h0M217.4 215.9h0M339.6 203.8h0M320.1 134.6h0M235.6 143.3h0M317.3 123.2h0M261.5 219.6h0M258.9 188.0h0M341.4 162.2h0M250.8 177.8h0M326.6 116.8h0M377.5 141.5h0M292.2 150.2h0" stroke="#b0b0b0" stroke-opacity="0.25" stroke-width="3.4" stroke-linecap="round" fill="none"/>
<path d="M359.8 160.2h0M262.5 177.5h0M324.3 141.3h0M307.5 180.4h0M277.3 197.8h0M269.5 210.7h0M311.3 194.1h0M294.6 131.9h0M346.7 165.9h0M251.7 171.4h0M264.8 192.6h0M310.6 146.0h0M307.6 160.3h0M226.5 193.1h0M303.5 210.1h0M228.1 233.7h0M378.9 160.7h0M341.2 66.8h0M295.5 158.1h0M246.4 192.6h0M308.6 187.5h0M304.3 143.9h0M301.9 151.9h0M291.0 163.7h0M310.7 122.3h0M311.0 187.2h0M349.9 144.2h0M288.9 177.5h0M241.2 156.4h0M343.2 121.6h0M240.8 200.6h0M283.8 179.8h0M334.5 145.0h0M331.9 141.5h0M212.0 168.5h0M324.6 150.5h0M271.2 204.6h0M245.4 139.6h0M267.4 211.0h0M361.7 125.8h0M364.1 185.0h0M358.8 211.2h0M299.4 184.0h0M266.8 222.2h0M346.0 186.4h0M377.4 179.7h0M311.8 180.2h0M331.8 169.9h0M354.8 156.2h0M328.6 163.7h0M283.0 114.2h0M285.8 187.7h0M270.4 199.2h0M348.5 155.4h0" stroke="#b0b0b0" stroke-opacity="0.25" stroke-width="3.4" stroke-linecap="round" fill="none"/>
<path d="M347.1 153.0h0M379.1 133.6h0M256.5 114.5h0M293.4 174.3h0M345.2 221.0h0M254.3 178.6h0M278.0 179.2h0M284.6 155.7h0M315.6 199.6h0M285.9 180.3h0M247.6 197.2h0M332.1 213.6h0M299.4 172.1h0M173.5 200.3h0M297.1 166.7h0M265.6 173.4h0M317.8 153.0h0M364.9 172.0h0M217.7 230.7h0M275.1 155.5h0M293.4 155.8h0M284.2 189.4h0M272.4 170.3h0M326.4 156.2h0M259.2 172.3h0M317.3 167.7h0M387.0 165.9h0M235.2 215.4h0M341.2 142.1h0M310.2 130.2h0M412.1 175.5h0M331.9 197.6h0M315.5 144.6h0M339.2 187.1h0M321.5 182.7h0M320.4 190.0h0M296.6 173.9h0M257.0 209.2h0M243.8 180.3h0M223.8 207.6h0M305.9 181.4h0M274.6 211.5h0M215.5 165.0h0M243.6 167.1h0M282.2 181.5h0M342.0 165.7h0M324.1 120.6h0M332.8 192.2h0M252.5 231.6h0M283.2 174.3h0M316.2 157.0h0M343.4 182.3h0M296.5 204.9h0M346.2 170.0h0" stroke="#b0b0b0" stroke-opacity="0.25" stroke-width="3.4" stroke-linecap="round" fill="none"/>
<path d="M228.9 188.2h0M307.5 177.8h0M287.1 199.5h0M247.0 188.1h0M336.2 173.9h0M299.7 210.7h0M329.9 169.5h0M338.2 177.9h0M265.3 185.8h0M343.5 194.7h0M346.8 194.2h0M271.4 165.8h0M299.3 161.5h0M232.8 168.9h0M345.3 154.4h0M345.8 186.8h0M323.4 138.9h0M287.7 202.8h0M244.9 168.3h0M317.5 154.4h0M294.6 188.3h0M256.7 200.4h0M308.2 157.2h0M231.0 138.4h0M308.6 189.2h0M330.9 155.5h0M250.6 183.1h0M352.3 153.3h0M300.9 162.9h0M266.7 163.5h0M212.1 224.3h0M294.2 199.2h0M220.4 190.8h0M270.1 158.3h0M267.6 224.4h0M335.9 182.1h0M225.3 173.1h0M308.6 162.0h0M240.0 185.5h0M270.3 218.3h0M394.7 135.2h0M304.3 131.9h0M334.4 182.9h0M254.9 205.2h0M361.2 191.9h0M275.8 152.2h0M330.7 185.0h0M391.2 174.6h0M308.3 178.0h0M299.3 183.0h0M322.0 179.3h0M291.0 182.1h0M257.2 164.0h0M399.2 197.2h0" stroke="#b0b0b0" stroke-opacity="0.25" stroke-width="3.4" stroke-linecap="round" fill="none"/>
<path d="M362.3 114.9h0M245.0 204.6h0M350.4 208.7h0M328.4 157.0h0M296.8 201.7h0M314.7 168.9h0M276.3 158.3h0M253.7 167.6h0M317.2 131.9h0M322.4 169.1h0M359.4 164.3h0M328.9 158.7h0M332.2 161.6h0M259.6 206.2h0M287.1 132.7h0M222.0 179.1h0M322.8 184.9h0M395.8 125.9h0M316.7 191.3h0M328.5 192.1h0M295.5 168.3h0M305.5 202.6h0M294.4 172.1h0M356.6 192.3h0M211.8 177.7h0M298.0 196.8h0M302.9 187.1h0M306.3 191.4h0M279.5 183.9h0M286.7 195.4h0M359.5 181.9h0M314.3 149.9h0M258.4 165.7h0M287.2 174.7h0M299.8 178.0h0M172.7 110.9h0M333.2 188.9h0M245.6 158.3h0M263.3 149.9h0M288.8 207.8h0M277.2 198.5h0M325.2 188.5h0M287.7 177.9h0M300.8 177.1h0M263.6 193.8h0M289.6 178.5h0M317.6 141.5h0M310.4 186.6h0M285.4 193.2h0M268.0 152.7h0M275.3 197.3h0M308.6 150.5h0M317.4 197.9h0M287.5 199.0h0" stroke="#b0b0b0" stroke-opacity="0.25" stroke-width="3.4" stroke-linecap="round" fill="none"/>
<path d="M262.2 206.2h0M386.8 136.7h0M316.4 141.9h0M292.9 176.6h0M260.6 181.2h0M331.7 176.3h0M254.3 205.2h0M316.4 182.7h0M274.2 176.6h0M311.6 180.5h0M331.4 172.9h0M363.7 223.1h0M295.7 196.7h0M337.2 137.5h0M310.6 179.6h0M300.0 121.5h0M364.8 152.0h0M302.5 216.3h0M306.9 143.4h0M361.2 157.3h0M264.9 171.2h0M293.9 137.7h0M279.3 193.8h0M231.7 231.8h0M300.4 191.4h0M342.1 176.4h0M263.0 177.5h0M361.8 165.6h0M193.1 188.3h0M323.9 174.0h0M281.5 188.4h0M288.5 195.9h0M318.1 212.9h0M295.4 148.4h0M326.1 145.2h0M357.6 198.7h0M317.3 171.7h0M321.7 165.2h0M313.6 180.8h0M342.0 180.1h0M358.2 189.2h0M317.2 187.6h0M339.7 198.7h0M303.1 199.6h0M247.8 179.2h0M279.7 178.5h0M246.6 182.7h0M230.3 176.0h0M335.4 138.7h0M305.2 188.7h0M314.9 188.2h0M359.8 147.5h0M348.0 147.6h0M327.4 122.4h0" stroke="#b0b0b0" stroke-opacity="0.25" stroke-width="3.4" stroke-linecap="round" fill="none"/>
<path d="M345.5 181.3h0M326.2 152.4h0M284.3 262.3h0M319.5 155.9h0M322.5 198.1h0M348.0 162.2h0M280.6 200.1h0M308.1 204.4h0M315.3 182.5h0M330.8 153.6h0M299.6 175.8h0M335.6 164.2h0M280.3 213.5h0M249.6 215.6h0M230.1 174.0h0M303.1 174.3h0M308.2 214.3h0M351.4 175.2h0M319.3 197.5h0M313.7 173.4h0M298.5 187.0h0M264.4 176.6h0M291.7 151.5h0M312.3 188.1h0M327.4 147.3h0M333.0 153.8h0M228.6 163.4h0M275.8 192.3h0M340.7 199.7h0M325.8 176.7h0M358.9 158.0h0M312.2 183.2h0M342.9 228.6h0M320.4 106.8h0M266.2 207.3h0M317.8 165.1h0M327.6 169.8h0M239.7 127.3h0M303.9 181.3h0M241.6 168.8h0M283.5 235.2h0M300.9 175.5h0M245.6 141.8h0M262.0 205.3h0M230.4 166.6h0M336.7 152.7h0M373.4 163.7h0M284.5 218.4h0M269.0 168.4h0M293.1 188.1h0M316.1 221.0h0M241.9 192.6h0M307.4 144.8h0M281.4 189.2h0" stroke="#b0b0b0" stroke-opacity="0.25" stroke-width="3.4" stroke-linecap="round" fill="none"/>
<path d="M396.2 165.8h0M300.8 194.0h0M325.7 184.3h0M307.1 161.8h0M241.8 184.2h0M307.6 211.7h0M294.4 155.4h0M326.4 172.5h0M231.6 112.2h0M331.3 136.4h0M384.9 156.5h0M329.6 156.4h0M317.5 152.2h0M309.6 177.7h0M308.8 178.6h0M306.3 205.6h0M326.7 193.9h0M322.1 191.5h0M313.5 132.9h0M198.5 163.7h0M387.3 211.4h0M244.7 119.9h0M329.2 216.1h0M281.0 179.6h0M341.3 174.9h0M265.4 193.5h0M293.2 149.4h0M373.0 210.3h0M432.1 167.7h0M278.1 189.1h0M316.5 183.3h0M341.1 206.1h0M303.2 151.6h0M308.6 175.0h0M293.0 161.0h0M253.8 145.7h0M277.3 174.3h0M315.6 153.7h0M352.9 160.7h0M300.0 177.4h0M363.5 210.0h0M352.1 147.4h0M258.9 173.1h0M366.6 129.3h0M298.6 158.5h0M347.1 191.0h0M348.1 178.7h0M201.1 159.8h0M350.8 212.3h0M269.7 175.7h0M306.0 164.3h0M285.9 257.3h0M324.0 143.3h0M269.1 194.8h0" stroke="#b0b0b0" stroke-opacity="0.25" stroke-width="3.4" stroke-linecap="round" fill="none"/>
<path d="M294.5 190.8h0M406.0 112.6h0M296.5 141.1h0M284.1 201.7h0M257.8 178.2h0M329.6 64.0h0M372.5 135.1h0M203.2 169.8h0M292.9 161.2h0M330.3 135.2h0M213.5 215.7h0M352.1 171.9h0M309.2 164.3h0M349.3 162.1h0M254.6 116.1h0M277.4 163.2h0M270.6 185.9h0M347.4 166.9h0M246.0 173.0h0M329.9 178.7h0M345.7 138.5h0M271.9 174.9h0M252.3 158.3h0M368.7 190.5h0M383.2 150.9h0M235.9 178.6h0M313.5 161.6h0M261.0 197.6h0M253.3 186.4h0M329.4 192.7h0M349.5 180.6h0M317.5 209.2h0M276.0 138.7h0M198.3 162.6h0M322.3 115.5h0M276.8 189.4h0M345.6 142.7h0M350.5 182.7h0M351.3 193.2h0M388.9 141.8h0M175.3 216.4h0M344.5 100.5h0M361.5 132.6h0M264.6 208.1h0M229.1 219.5h0M303.5 210.1h0M335.3 180.5h0M394.0 165.3h0M251.2 199.2h0M243.9 174.8h0M296.6 168.4h0M288.2 207.5h0M330.1 175.1h0M283.0 192.6h0" stroke="#b0b0b0" stroke-opacity="0.25" stroke-width="3.4" stroke-linecap="round" fill="none"/>
<path d="M269.2 107.1h0M208.3 185.9h0M255.5 155.2h0M338.7 168.6h0M274.3 181.1h0M385.9 190.7h0M270.6 201.9h0M320.1 174.8h0M291.7 175.9h0M310.3 200.3h0M285.7 190.2h0M290.0 227.3h0M370.4 159.5h0M293.0 188.8h0M258.7 201.1h0M294.2 189.4h0M330.5 188.1h0M345.6 177.8h0M379.6 123.2h0M331.3 161.8h0M242.8 147.5h0M263.1 135.1h0M297.8 171.3h0M304.4 183.3h0M348.9 202.4h0M222.3 197.9h0M272.4 178.1h0M255.5 171.1h0M317.2 184.6h0M298.0 165.0h0M326.0 185.9h0M231.2 182.3h0M308.6 203.5h0M258.6 153.4h0M248.3 199.3h0M308.0 146.6h0M393.6 177.1h0M332.8 163.3h0M350.0 197.0h0M285.3 170.1h0M323.7 198.8h0M290.0 203.4h0M238.2 177.9h0M313.8 169.8h0M246.3 192.2h0M309.0 198.7h0M320.4 151.6h0M290.5 138.5h0M333.3 153.2h0M259.7 207.0h0M304.1 216.3h0M248.8 199.9h0M242.4 186.1h0M311.8 183.5h0" stroke="#b0b0b0" stroke-opacity="0.25" stroke-width="3.4" stroke-linecap="round" fill="none"/>
<path d="M377.0 138.9h0M298.4 135.1h0M317.7 178.7h0M293.3 163.5h0M329.0 186.3h0M281.9 158.7h0M334.3 183.9h0M211.3 212.1h0M246.7 180.2h0M271.0 204.8h0M297.5 184.9h0M287.2 178.0h0M267.2 162.8h0M335.5 169.4h0M277.7 170.9h0M219.3 172.9h0M290.4 147.4h0M260.3 190.3h0M312.8 180.9h0M254.1 156.8h0M254.9 165.3h0M408.4 111.0h0M342.5 139.1h0M355.6 123.3h0M317.5 171.0h0M249.8 180.2h0M292.4 189.5h0M243.4 169.9h0M311.7 189.6h0M298.4 203.1h0M247.0 178.0h0M308.3 225.1h0M279.2 166.0h0M291.2 202.9h0M360.9 105.0h0M324.5 178.5h0M343.4 177.1h0M300.2 209.3h0M270.9 148.2h0M304.8 150.9h0M315.6 183.7h0M270.4 181.7h0M275.5 160.9h0M306.0 166.8h0M349.9 150.5h0M328.6 211.0h0M305.6 157.0h0M308.6 150.0h0M247.3 193.3h0M319.2 149.2h0M294.5 161.9h0M306.7 203.2h0M276.0 210.8h0M285.1 154.2h0" stroke="#b0b0b0" stroke-opacity="0.25" stroke-width="3.4" stroke-linecap="round" fill="none"/>
<path d="M298.9 160.6h0M227.1 201.4h0M383.9 116.5h0M363.9 169.6h0M258.8 166.6h0M253.5 166.8h0M342.9 150.8h0M331.7 187.9h0M295.6 193.2h0M348.4 156.5h0M348.6 140.3h0M375.9 192.8h0M328.7 156.7h0M289.7 206.1h0M358.3 180.4h0M300.2 183.3h0M391.6 171.9h0M278.0 175.6h0M248.4 211.4h0M223.0 182.9h0M335.4 148.8h0M325.6 177.4h0M349.9 161.9h0M306.8 136.6h0M258.7 163.4h0M363.4 126.3h0M327.8 141.7h0M337.7 197.0h0M360.5 230.5h0M252.1 183.2h0M360.6 152.5h0M222.8 195.2h0M301.0 169.2h0M231.5 178.6h0M392.5 107.2h0M246.0 187.2h0M221.5 166.0h0M402.9 159.2h0M315.2 148.8h0M264.1 156.3h0M346.8 174.4h0M346.7 190.1h0M242.6 198.1h0M228.0 199.5h0M327.8 144.5h0M351.2 167.7h0M237.8 139.5h0M268.8 199.3h0M235.8 208.6h0M259.0 193.5h0M267.8 185.1h0M270.2 160.3h0M245.5 224.8h0M319.5 218.2h0" stroke="#b0b0b0" stroke-opacity="0.25" stroke-width="3.4" stroke-linecap="round" fill="none"/>
<path d="M83.0 57.50h0.6M83.0 60.50h0.6M83.0 62.50h0.6M83.0 65.50h0.7M83.0 67.50h0.7M83.0 70.50h0.7M83.0 72.50h0.7M83.0 75.50h0.7M83.0 77.50h0.7M83.0 80.50h0.7M83.0 82.50h0.8M83.0 85.50h0.8M83.0 87.50h0.8M83.0 90.50h0.8M83.0 92.50h0.8M83.0 95.50h0.8M83.0 97.50h0.8M83.0 100.50h0.9M83.0 102.50h0.9M83.0 105.50h0.9M83.0 107.50h0.9M83.0 110.50h1.2M83.0 112.50h1.6M83.0 115.50h1.9M83.0 117.50h2.3M83.0 120.50h2.8M83.0 122.50h3.3M83.0 125.50h3.7M83.0 127.50h4.1M83.0 130.50h4.7M83.0 132.50h5.3M83.0 135.50h5.8M83.0 137.50h6.3M83.0 140.50h7.3M83.0 142.50h8.3M83.0 145.50h9.2M83.0 147.50h10.1M83.0 150.50h11.0M83.0 152.50h12.0M83.0 155.50h13.5M83.0 157.50h15.0M83.0 160.50h15.4M83.0 162.50h15.8M83.0 165.50h15.5M83.0 167.50h15.3M83.0 170.50h14.9M83.0 172.50h14.6M83.0 175.50h14.7M83.0 177.50h15.0M83.0 180.50h15.0M83.0 182.50h15.0M83.0 185.50h14.3M83.0 188.50h13.5M83.0 190.50h12.2M83.0 193.50h10.8M83.0 195.50h9.8M83.0 198.50h8.8M83.0 200.50h7.8M83.0 203.50h6.8M83.0 205.50h6.2M83.0 208.50h5.7M83.0 210.50h5.2M83.0 213.50h4.7M83.0 215.50h4.0M83.0 218.50h3.3M83.0 220.50h2.8M83.0 223.50h2.3M83.0 225.50h2.0M83.0 228.50h1.8M83.0 230.50h1.5M83.0 233.50h1.4M83.0 235.50h1.3M83.0 238.50h1.2M83.0 240.50h1.1M83.0 243.50h1.0M83.0 245.50h1.0M83.0 248.50h0.9M83.0 250.50h0.9M83.0 253.50h0.8M83.0 255.50h0.8M83.0 258.50h0.7M83.0 260.50h0.6M83.0 263.50h0.6M83.0 265.50h0.5" stroke="#b05a68" stroke-width="1" fill="none" opacity="0.62"/>
<path d="M96.50 279.0v-0.5M99.50 279.0v-0.5M103.50 279.0v-0.5M106.50 279.0v-0.5M110.50 279.0v-0.5M113.50 279.0v-0.5M117.50 279.0v-0.5M120.50 279.0v-0.5M124.50 279.0v-0.6M127.50 279.0v-0.6M131.50 279.0v-0.6M134.50 279.0v-0.6M138.50 279.0v-0.6M141.50 279.0v-0.6M145.50 279.0v-0.6M148.50 279.0v-0.6M151.50 279.0v-0.6M155.50 279.0v-0.6M158.50 279.0v-0.6M162.50 279.0v-0.6M165.50 279.0v-0.6M169.50 279.0v-0.6M172.50 279.0v-0.6M176.50 279.0v-0.7M179.50 279.0v-0.7M183.50 279.0v-0.7M186.50 279.0v-0.7M190.50 279.0v-0.7M193.50 279.0v-0.7M197.50 279.0v-0.7M200.50 279.0v-0.7M204.50 279.0v-0.8M207.50 279.0v-0.9M211.50 279.0v-1.0M214.50 279.0v-1.2M218.50 279.0v-1.4M221.50 279.0v-1.7M225.50 279.0v-1.9M228.50 279.0v-2.1M232.50 279.0v-2.4M235.50 279.0v-2.8M238.50 279.0v-3.2M242.50 279.0v-3.7M245.50 279.0v-4.1M249.50 279.0v-4.4M252.50 279.0v-4.6M256.50 279.0v-4.8M259.50 279.0v-5.0M263.50 279.0v-5.1M266.50 279.0v-5.1M270.50 279.0v-5.4M273.50 279.0v-8.4M277.50 279.0v-8.1M280.50 279.0v-8.1M284.50 279.0v-8.8M287.50 279.0v-9.5M291.50 279.0v-9.1M294.50 279.0v-8.8M298.50 279.0v-11.2M301.50 279.0v-13.1M305.50 279.0v-13.2M308.50 279.0v-13.1M312.50 279.0v-13.0M315.50 279.0v-13.0M319.50 279.0v-13.0M322.50 279.0v-12.4M325.50 279.0v-11.6M329.50 279.0v-10.8M332.50 279.0v-9.9M336.50 279.0v-9.1M339.50 279.0v-8.3M343.50 279.0v-8.0M346.50 279.0v-7.8M350.50 279.0v-7.1M353.50 279.0v-6.0M357.50 279.0v-5.1M360.50 279.0v-4.4M364.50 279.0v-3.7M367.50 279.0v-2.7M371.50 279.0v-1.5M374.50 279.0v-1.3M378.50 279.0v-1.0M381.50 279.0v-0.9M385.50 279.0v-0.9M388.50 279.0v-0.9M392.50 279.0v-0.8M395.50 279.0v-0.8M399.50 279.0v-0.8M402.50 279.0v-0.8M406.50 279.0v-0.8M409.50 279.0v-0.8M412.50 279.0v-0.7M416.50 279.0v-0.7M419.50 279.0v-0.7M423.50 279.0v-0.7M426.50 279.0v-0.7M430.50 279.0v-0.6M433.50 279.0v-0.6M437.50 279.0v-0.6M440.50 279.0v-0.6M444.50 279.0v-0.6M447.50 279.0v-0.6M451.50 279.0v-0.5M454.50 279.0v-0.5M458.50 279.0v-0.5" stroke="#5a9a4a" stroke-width="1" fill="none" opacity="0.75"/>
<path d="M82.5 15V244M82.5 15.00h-4M82.5 72.25h-4M82.5 129.50h-4M82.5 186.75h-4M82.5 244.00h-4M136.5 279.5H449.3M136.50 279.5v4M214.70 279.5v4M292.90 279.5v4M371.10 279.5v4M449.30 279.5v4" stroke="#777" stroke-width="1" fill="none"/>
<path d="M82.5 195.4L471 151.7" stroke="#3a3a3a" stroke-width="1.4" fill="none"/>
<text transform="translate(72.5 15.00) rotate(-90)" text-anchor="middle" class="tk">10</text>
<text transform="translate(72.5 72.25) rotate(-90)" text-anchor="middle" class="tk">5</text>
<text transform="translate(72.5 129.50) rotate(-90)" text-anchor="middle" class="tk">0</text>
<text transform="translate(72.5 186.75) rotate(-90)" text-anchor="middle" class="tk">-5</text>
<text transform="translate(72.5 244.00) rotate(-90)" text-anchor="middle" class="tk">-10</text>
<text x="136.50" y="296.8" text-anchor="middle" class="tk">4</text>
<text x="214.70" y="296.8" text-anchor="middle" class="tk">6</text>
<text x="292.90" y="296.8" text-anchor="middle" class="tk">8</text>
<text x="371.10" y="296.8" text-anchor="middle" class="tk">10</text>
<text x="449.30" y="296.8" text-anchor="middle" class="tk">12</text>
<text transform="translate(46.3 143.2) rotate(-90)" text-anchor="middle" class="lab" textLength="229" lengthAdjust="spacingAndGlyphs">Log2 RPKM Ratio (Platelets / Megakaryocytes)</text>
<text x="276.7" y="322" text-anchor="middle" class="lab" textLength="105.5" lengthAdjust="spacingAndGlyphs">Log2 Half Life in Mins</text>
<text x="101.5" y="22.3" class="st">r:&#160; 0.169</text>
<text x="101.5" y="33.5" class="st" textLength="88" lengthAdjust="spacingAndGlyphs">p-value:&#160; 3.3487e-44</text>
<text x="1" y="9.2" class="big">A</text>
<text x="1" y="345.8" class="big">B</text>
<path d="M27.6 396.97H213.0M27.6 413.05H213.0M27.6 429.12H213.0M27.6 445.20H213.0" stroke="#d9d9d9" stroke-width="1" fill="none"/>
<path d="M30.6 380.9V445.2" stroke="#d9d9d9" stroke-width="1" fill="none"/>
<rect x="38.60" y="380.90" width="9.95" height="12.86" fill="#4f81bd"/>
<rect x="48.55" y="380.90" width="9.95" height="23.47" fill="#c0504d"/>
<rect x="58.50" y="380.90" width="9.95" height="29.58" fill="#9bbb59"/>
<rect x="84.20" y="380.90" width="9.95" height="9.64" fill="#4f81bd"/>
<rect x="94.15" y="380.90" width="9.95" height="24.43" fill="#c0504d"/>
<rect x="104.10" y="380.90" width="9.95" height="24.11" fill="#9bbb59"/>
<rect x="129.80" y="380.90" width="9.95" height="20.25" fill="#4f81bd"/>
<rect x="139.75" y="380.90" width="9.95" height="40.19" fill="#c0504d"/>
<rect x="149.70" y="380.90" width="9.95" height="40.51" fill="#9bbb59"/>
<rect x="175.40" y="380.90" width="9.95" height="32.47" fill="#4f81bd"/>
<rect x="185.35" y="380.90" width="9.95" height="51.12" fill="#c0504d"/>
<rect x="195.30" y="380.90" width="9.95" height="50.48" fill="#9bbb59"/>
<path d="M43.58 392.79V394.73M42.18 392.79h2.8M42.18 394.73h2.8M53.52 402.76V405.98M52.12 402.76h2.8M52.12 405.98h2.8M63.48 408.87V412.09M62.08 408.87h2.8M62.08 412.09h2.8M89.17 386.68V394.41M87.77 386.68h2.8M87.77 394.41h2.8M99.12 402.11V408.55M97.72 402.11h2.8M97.72 408.55h2.8M109.07 400.50V409.52M107.67 400.50h2.8M107.67 409.52h2.8M134.78 397.93V404.37M133.38 397.93h2.8M133.38 404.37h2.8M144.72 417.87V424.31M143.32 417.87h2.8M143.32 424.31h2.8M154.68 417.55V425.27M153.28 417.55h2.8M153.28 425.27h2.8M180.38 410.15V416.59M178.97 410.15h2.8M178.97 416.59h2.8M190.32 430.09V433.95M188.92 430.09h2.8M188.92 433.95h2.8M200.28 430.73V432.02M198.88 430.73h2.8M198.88 432.02h2.8" stroke="#333" stroke-width="0.8" fill="none"/>
<path d="M30.6 380.9H213.0M30.6 377.9v3M76.2 377.9v3M121.8 377.9v3M167.4 377.9v3M213.0 377.9v3" stroke="#d0d0d0" stroke-width="1" fill="none"/>
<text x="24.3" y="383.30" text-anchor="end" class="tk2">20</text>
<text x="24.3" y="399.37" text-anchor="end" class="tk2">25</text>
<text x="24.3" y="415.45" text-anchor="end" class="tk2">30</text>
<text x="24.3" y="431.52" text-anchor="end" class="tk2">35</text>
<text x="24.3" y="447.60" text-anchor="end" class="tk2">40</text>
<text x="53.4" y="372.1" text-anchor="middle" class="ct">GAPDH</text>
<text x="99.0" y="372.1" text-anchor="middle" class="ct">PPIA</text>
<text x="144.6" y="372.1" text-anchor="middle" class="ct">TUBB</text>
<text x="190.2" y="372.1" text-anchor="middle" class="ct">GUSB</text>
<text x="108.5" y="352.3" text-anchor="middle" class="ctt" textLength="93.5" lengthAdjust="spacingAndGlyphs">Housekeeping genes</text>
<text transform="translate(10.8 402.9) rotate(-90)" text-anchor="middle" class="cty" textLength="37.8" lengthAdjust="spacingAndGlyphs">CT values</text>
<path d="M264.8 363.70H487.3M264.8 377.52H487.3M264.8 391.34H487.3M264.8 405.16H487.3M264.8 418.98H487.3" stroke="#d9d9d9" stroke-width="1" fill="none"/>
<path d="M267.8 363.7V432.8" stroke="#d9d9d9" stroke-width="1" fill="none"/>
<rect x="276.40" y="391.34" width="9.75" height="41.46" fill="#4f81bd"/>
<rect x="286.15" y="383.39" width="9.75" height="49.41" fill="#c0504d"/>
<rect x="295.90" y="385.47" width="9.75" height="47.33" fill="#9bbb59"/>
<rect x="320.30" y="407.92" width="9.75" height="24.88" fill="#4f81bd"/>
<rect x="330.05" y="406.54" width="9.75" height="26.26" fill="#c0504d"/>
<rect x="339.80" y="407.23" width="9.75" height="25.57" fill="#9bbb59"/>
<rect x="364.20" y="386.85" width="9.75" height="45.95" fill="#4f81bd"/>
<rect x="373.95" y="375.79" width="9.75" height="57.01" fill="#c0504d"/>
<rect x="383.70" y="377.17" width="9.75" height="55.63" fill="#9bbb59"/>
<rect x="408.10" y="411.38" width="9.75" height="21.42" fill="#4f81bd"/>
<rect x="417.85" y="391.69" width="9.75" height="41.11" fill="#c0504d"/>
<rect x="427.60" y="396.52" width="9.75" height="36.28" fill="#9bbb59"/>
<rect x="452.00" y="425.54" width="9.75" height="7.26" fill="#4f81bd"/>
<rect x="461.75" y="407.23" width="9.75" height="25.57" fill="#c0504d"/>
<rect x="471.50" y="418.98" width="9.75" height="13.82" fill="#9bbb59"/>
<path d="M281.28 387.34V395.34M279.88 387.34h2.8M279.88 395.34h2.8M291.03 379.39V387.39M289.63 379.39h2.8M289.63 387.39h2.8M300.78 381.47V389.47M299.38 381.47h2.8M299.38 389.47h2.8M325.18 405.92V409.92M323.78 405.92h2.8M323.78 409.92h2.8M334.93 401.54V411.54M333.53 401.54h2.8M333.53 411.54h2.8M344.68 403.73V410.73M343.28 403.73h2.8M343.28 410.73h2.8M369.08 383.55V390.15M367.68 383.55h2.8M367.68 390.15h2.8M378.83 372.79V378.79M377.43 372.79h2.8M377.43 378.79h2.8M388.58 373.17V381.17M387.18 373.17h2.8M387.18 381.17h2.8M412.98 409.38V413.38M411.58 409.38h2.8M411.58 413.38h2.8M422.73 387.39V395.99M421.33 387.39h2.8M421.33 395.99h2.8M432.48 388.52V404.52M431.08 388.52h2.8M431.08 404.52h2.8M456.88 423.04V428.04M455.48 423.04h2.8M455.48 428.04h2.8M466.62 398.23V416.23M465.23 398.23h2.8M465.23 416.23h2.8M476.38 415.68V422.28M474.98 415.68h2.8M474.98 422.28h2.8" stroke="#333" stroke-width="0.8" fill="none"/>
<path d="M267.8 432.8H487.3M267.8 432.8v3M311.7 432.8v3M355.6 432.8v3M399.5 432.8v3M443.4 432.8v3M487.3 432.8v3" stroke="#d0d0d0" stroke-width="1" fill="none"/>
<text x="262.5" y="366.10" text-anchor="end" class="tk2">0</text>
<text x="262.5" y="379.92" text-anchor="end" class="tk2">-2</text>
<text x="262.5" y="393.74" text-anchor="end" class="tk2">-4</text>
<text x="262.5" y="407.56" text-anchor="end" class="tk2">-6</text>
<text x="262.5" y="421.38" text-anchor="end" class="tk2">-8</text>
<text x="262.5" y="435.20" text-anchor="end" class="tk2">-10</text>
<text x="370.5" y="351" text-anchor="middle" class="ctt" textLength="235" lengthAdjust="spacingAndGlyphs">Linear transcripts normalized to housekeeping pool</text>
<text transform="translate(237.3 398) rotate(-90)" text-anchor="middle" class="cty2" textLength="77.6" lengthAdjust="spacingAndGlyphs">-&#916;CT normalized to</text>
<text transform="translate(248.6 398) rotate(-90)" text-anchor="middle" class="cty2" textLength="77" lengthAdjust="spacingAndGlyphs">house keeping pool</text>
<text transform="translate(290.2 446.5) rotate(15)" class="ctl">PHC3Ex4-5</text>
<text transform="translate(334.1 446.5) rotate(15)" class="ctl">SMARCA5 EX 14-15</text>
<text transform="translate(378.1 446.5) rotate(15)" class="ctl">UBXN7 EX 5-6</text>
<text transform="translate(422.0 446.5) rotate(15)" class="ctl">PNN EX 8-9</text>
<text transform="translate(465.9 446.5) rotate(15)" class="ctl">MAN1A2 EX 1-2</text>
<path d="M52.0 496.25H371.4M52.0 514.91H371.4M52.0 533.58H371.4M52.0 552.24H371.4" stroke="#d9d9d9" stroke-width="1" fill="none"/>
<path d="M55.0 496.2V570.9" stroke="#d9d9d9" stroke-width="1" fill="none"/>
<rect x="62.70" y="547.57" width="10.00" height="23.33" fill="#4f81bd"/>
<rect x="72.70" y="535.91" width="10.00" height="34.99" fill="#c0504d"/>
<rect x="82.70" y="532.64" width="10.00" height="38.26" fill="#9bbb59"/>
<rect x="107.90" y="548.04" width="10.00" height="22.86" fill="#4f81bd"/>
<rect x="117.90" y="533.11" width="10.00" height="37.79" fill="#c0504d"/>
<rect x="127.90" y="532.46" width="10.00" height="38.44" fill="#9bbb59"/>
<rect x="153.10" y="533.58" width="10.00" height="37.32" fill="#4f81bd"/>
<rect x="163.10" y="510.71" width="10.00" height="60.19" fill="#c0504d"/>
<rect x="173.10" y="508.38" width="10.00" height="62.52" fill="#9bbb59"/>
<rect x="198.30" y="545.24" width="10.00" height="25.66" fill="#4f81bd"/>
<rect x="208.30" y="532.64" width="10.00" height="38.26" fill="#c0504d"/>
<rect x="218.30" y="530.78" width="10.00" height="40.12" fill="#9bbb59"/>
<rect x="243.50" y="555.04" width="10.00" height="15.86" fill="#4f81bd"/>
<rect x="253.50" y="546.64" width="10.00" height="24.26" fill="#c0504d"/>
<rect x="263.50" y="537.31" width="10.00" height="33.59" fill="#9bbb59"/>
<rect x="288.70" y="541.04" width="10.00" height="29.86" fill="#4f81bd"/>
<rect x="298.70" y="535.44" width="10.00" height="35.46" fill="#c0504d"/>
<rect x="308.70" y="528.44" width="10.00" height="42.46" fill="#9bbb59"/>
<rect x="333.90" y="527.51" width="10.00" height="43.39" fill="#4f81bd"/>
<rect x="343.90" y="514.91" width="10.00" height="55.99" fill="#c0504d"/>
<rect x="353.90" y="511.18" width="10.00" height="59.72" fill="#9bbb59"/>
<path d="M67.70 546.07V549.07M66.30 546.07h2.8M66.30 549.07h2.8M77.70 532.41V539.41M76.30 532.41h2.8M76.30 539.41h2.8M87.70 529.64V535.64M86.30 529.64h2.8M86.30 535.64h2.8M112.90 545.04V551.04M111.50 545.04h2.8M111.50 551.04h2.8M122.90 531.11V535.11M121.50 531.11h2.8M121.50 535.11h2.8M132.90 530.96V533.96M131.50 530.96h2.8M131.50 533.96h2.8M158.10 532.38V534.78M156.70 532.38h2.8M156.70 534.78h2.8M168.10 505.51V515.91M166.70 505.51h2.8M166.70 515.91h2.8M178.10 503.38V513.38M176.70 503.38h2.8M176.70 513.38h2.8M203.30 540.94V549.54M201.90 540.94h2.8M201.90 549.54h2.8M213.30 529.64V535.64M211.90 529.64h2.8M211.90 535.64h2.8M223.30 528.78V532.78M221.90 528.78h2.8M221.90 532.78h2.8M248.50 550.04V560.04M247.10 550.04h2.8M247.10 560.04h2.8M258.50 542.14V551.14M257.10 542.14h2.8M257.10 551.14h2.8M268.50 535.31V539.31M267.10 535.31h2.8M267.10 539.31h2.8M293.70 539.84V542.24M292.30 539.84h2.8M292.30 542.24h2.8M303.70 533.44V537.44M302.30 533.44h2.8M302.30 537.44h2.8M313.70 525.94V530.94M312.30 525.94h2.8M312.30 530.94h2.8M338.90 525.51V529.51M337.50 525.51h2.8M337.50 529.51h2.8M348.90 511.91V517.91M347.50 511.91h2.8M347.50 517.91h2.8M358.90 508.18V514.18M357.50 508.18h2.8M357.50 514.18h2.8" stroke="#333" stroke-width="0.8" fill="none"/>
<path d="M55.0 570.9H371.4M55.0 570.9v3M100.2 570.9v3M145.4 570.9v3M190.6 570.9v3M235.8 570.9v3M281.0 570.9v3M326.2 570.9v3M371.4 570.9v3" stroke="#d0d0d0" stroke-width="1" fill="none"/>
<text x="49.5" y="498.55" text-anchor="end" class="tk2">10</text>
<text x="49.5" y="517.21" text-anchor="end" class="tk2">8</text>
<text x="49.5" y="535.88" text-anchor="end" class="tk2">6</text>
<text x="49.5" y="554.54" text-anchor="end" class="tk2">4</text>
<text x="49.5" y="573.20" text-anchor="end" class="tk2">2</text>
<text x="213.9" y="487.6" text-anchor="middle" class="ctt" textLength="180.5" lengthAdjust="spacingAndGlyphs">Circular transcripts normalized to linear</text>
<text transform="translate(34.4 534) rotate(-90)" text-anchor="middle" class="cty3" textLength="109" lengthAdjust="spacingAndGlyphs">-&#916;&#916;CT normalized to linear</text>
<text transform="translate(77.6 585.5) rotate(15)" class="ctl">PHC3 Ex 6-5/Ex 4-5</text>
<text transform="translate(122.8 585.5) rotate(15)" class="ctl">PHC3 Ex 7-5/Ex 4-5</text>
<text transform="translate(168.0 585.5) rotate(15)" class="ctl">SMARCA5 Ex16-15/14-15</text>
<text transform="translate(213.2 585.5) rotate(15)" class="ctl">UBXN7 Ex 5-3/Ex5-6</text>
<text transform="translate(258.4 585.5) rotate(15)" class="ctl">UBXN7 Ex 5-4/Ex 5-6</text>
<text transform="translate(303.6 585.5) rotate(15)" class="ctl">PNN Ex 8-7/Ex 8-9</text>
<text transform="translate(348.8 585.5) rotate(15)" class="ctl">MAN1A2 Ex 5-2/Ex 1-2</text>
<rect x="396.3" y="517.6" width="5.6" height="5.5" fill="#4f81bd"/>
<text x="404.5" y="523.1" class="leg" textLength="56.3" lengthAdjust="spacingAndGlyphs">Platelets/0hrs</text>
<rect x="396.3" y="531.5" width="5.6" height="5.5" fill="#c0504d"/>
<text x="404.5" y="537.0" class="leg" textLength="85.3" lengthAdjust="spacingAndGlyphs">Platelets/72hrs/37oC</text>
<rect x="396.3" y="545.5" width="5.6" height="5.5" fill="#9bbb59"/>
<text x="404.5" y="551.0" class="leg" textLength="85.3" lengthAdjust="spacingAndGlyphs">Platelets/96hrs/37oC</text>
</svg></body></html>
